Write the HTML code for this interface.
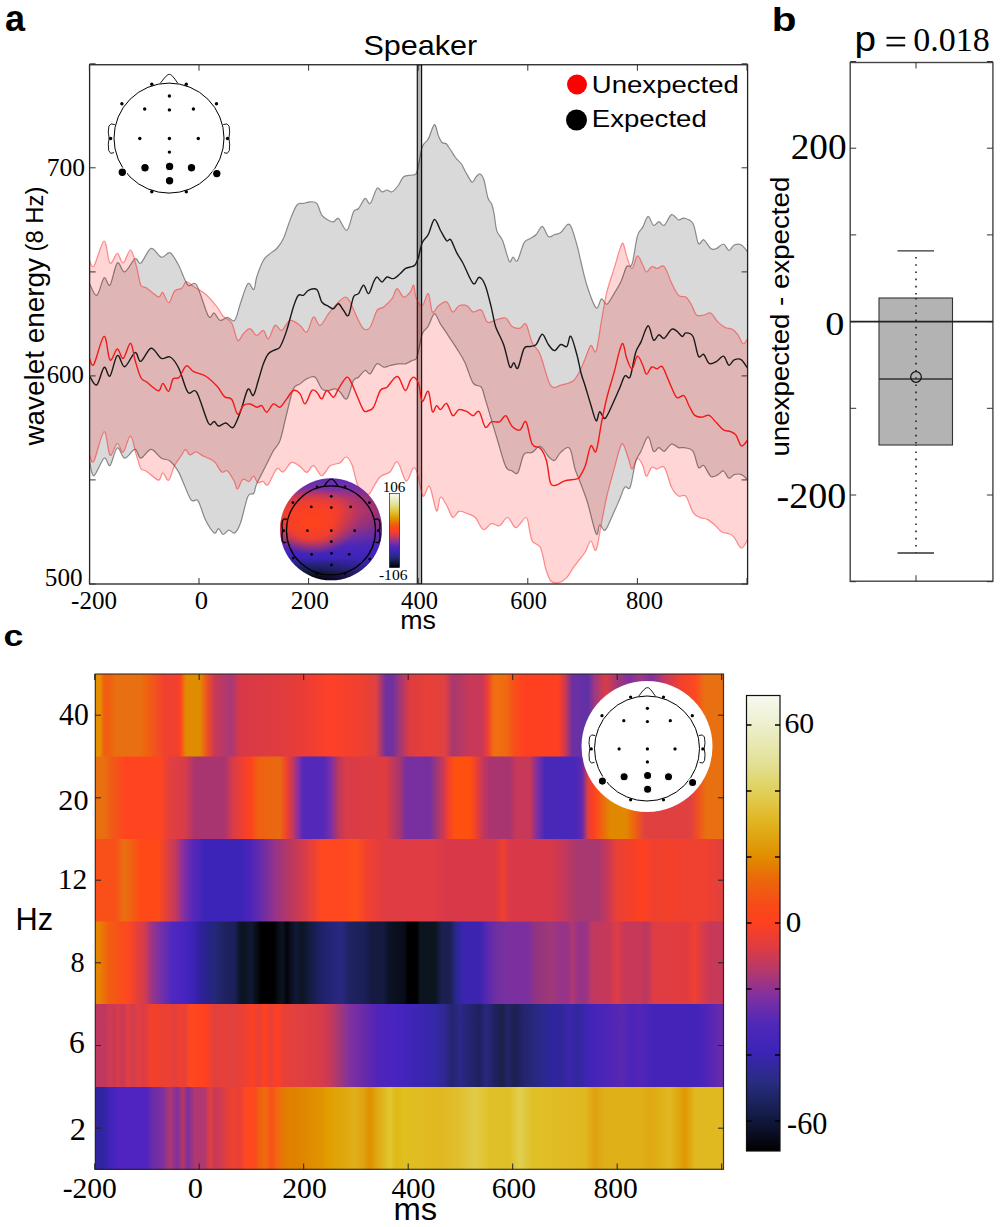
<!DOCTYPE html>
<html><head><meta charset="utf-8"><style>
html,body{margin:0;padding:0;background:#fff;}
svg{display:block;}
</style></head><body>
<svg width="1000" height="1227" viewBox="0 0 1000 1227">
<defs><clipPath id="ca"><rect x="89.6" y="64.75" width="658" height="519.25"/></clipPath><linearGradient id="topo" x1="0" y1="0" x2="0" y2="1"><stop offset="0" stop-color="#5a2cb4"/><stop offset="0.1" stop-color="#7a30a4"/><stop offset="0.2" stop-color="#c03860"/><stop offset="0.32" stop-color="#e03c44"/><stop offset="0.45" stop-color="#c83858"/><stop offset="0.56" stop-color="#8a3490"/><stop offset="0.66" stop-color="#5028b8"/><stop offset="0.78" stop-color="#3c24b8"/><stop offset="0.88" stop-color="#1c2060"/><stop offset="0.95" stop-color="#0c1020"/><stop offset="1" stop-color="#000"/></linearGradient><radialGradient id="topor" cx="0.33" cy="0.42" r="0.36" fx="0.3" fy="0.45" gradientTransform="translate(0.33,0.42) scale(1.25,0.9) translate(-0.33,-0.42)"><stop offset="0" stop-color="#ff4418" stop-opacity="1"/><stop offset="0.5" stop-color="#ff4020" stop-opacity="0.85"/><stop offset="1" stop-color="#ff4020" stop-opacity="0"/></radialGradient><linearGradient id="topob" x1="0" y1="0" x2="1" y2="0.3"><stop offset="0" stop-color="#4024b8" stop-opacity="0"/><stop offset="0.6" stop-color="#4024b8" stop-opacity="0"/><stop offset="1" stop-color="#4024b8" stop-opacity="0.5"/></linearGradient><linearGradient id="cbg" x1="0" y1="0" x2="0" y2="1"><stop offset="0.0000" stop-color="#f6f9f0"/><stop offset="0.0600" stop-color="#eef0d0"/><stop offset="0.1500" stop-color="#e2e094"/><stop offset="0.2200" stop-color="#e0cc50"/><stop offset="0.2800" stop-color="#e0b420"/><stop offset="0.3500" stop-color="#e09000"/><stop offset="0.4000" stop-color="#ea6a08"/><stop offset="0.4600" stop-color="#f84a18"/><stop offset="0.5000" stop-color="#ff4020"/><stop offset="0.5500" stop-color="#e03c40"/><stop offset="0.6100" stop-color="#b03870"/><stop offset="0.6600" stop-color="#8030a0"/><stop offset="0.7200" stop-color="#5028b8"/><stop offset="0.7800" stop-color="#3c24b8"/><stop offset="0.8500" stop-color="#282c80"/><stop offset="0.9200" stop-color="#141c48"/><stop offset="1.0000" stop-color="#000000"/></linearGradient><linearGradient id="r0" gradientUnits="userSpaceOnUse" x1="95" y1="0" x2="724" y2="0"><stop offset="0.0000" stop-color="#e09000"/><stop offset="0.0079" stop-color="#e89000"/><stop offset="0.0143" stop-color="#f06010"/><stop offset="0.0238" stop-color="#f06010"/><stop offset="0.0334" stop-color="#e87010"/><stop offset="0.0715" stop-color="#e87010"/><stop offset="0.0843" stop-color="#f06010"/><stop offset="0.0970" stop-color="#f05020"/><stop offset="0.1113" stop-color="#f04030"/><stop offset="0.1288" stop-color="#f04030"/><stop offset="0.1351" stop-color="#ff4020"/><stop offset="0.1447" stop-color="#e08c00"/><stop offset="0.1669" stop-color="#e08c00"/><stop offset="0.1781" stop-color="#f05020"/><stop offset="0.1908" stop-color="#c83858"/><stop offset="0.2162" stop-color="#a83878"/><stop offset="0.2305" stop-color="#d83848"/><stop offset="0.2941" stop-color="#e03c40"/><stop offset="0.3259" stop-color="#e83c38"/><stop offset="0.3736" stop-color="#ff4028"/><stop offset="0.4213" stop-color="#f04030"/><stop offset="0.4467" stop-color="#e04040"/><stop offset="0.4626" stop-color="#7030a0"/><stop offset="0.4722" stop-color="#7030a0"/><stop offset="0.4849" stop-color="#a03878"/><stop offset="0.5008" stop-color="#e03c40"/><stop offset="0.5326" stop-color="#e84038"/><stop offset="0.5564" stop-color="#e04040"/><stop offset="0.5692" stop-color="#a83870"/><stop offset="0.5962" stop-color="#c83858"/><stop offset="0.6153" stop-color="#c83858"/><stop offset="0.6248" stop-color="#f04030"/><stop offset="0.6343" stop-color="#f07010"/><stop offset="0.6534" stop-color="#f06a10"/><stop offset="0.6661" stop-color="#f85018"/><stop offset="0.6820" stop-color="#ff4020"/><stop offset="0.7361" stop-color="#ff4020"/><stop offset="0.7472" stop-color="#d03850"/><stop offset="0.7583" stop-color="#7030a0"/><stop offset="0.7838" stop-color="#6030a8"/><stop offset="0.7949" stop-color="#a03880"/><stop offset="0.8124" stop-color="#d83c48"/><stop offset="0.8315" stop-color="#a03878"/><stop offset="0.8506" stop-color="#8030a0"/><stop offset="0.8665" stop-color="#a03880"/><stop offset="0.8855" stop-color="#8030a0"/><stop offset="0.9062" stop-color="#c83860"/><stop offset="0.9300" stop-color="#f04030"/><stop offset="0.9539" stop-color="#ff4820"/><stop offset="0.9698" stop-color="#e87010"/><stop offset="1.0000" stop-color="#e87010"/></linearGradient><linearGradient id="r1" gradientUnits="userSpaceOnUse" x1="95" y1="0" x2="724" y2="0"><stop offset="0.0000" stop-color="#e87010"/><stop offset="0.0143" stop-color="#e87010"/><stop offset="0.0270" stop-color="#f05a18"/><stop offset="0.0477" stop-color="#ff4520"/><stop offset="0.1033" stop-color="#ff4520"/><stop offset="0.1192" stop-color="#e04040"/><stop offset="0.1431" stop-color="#d83c48"/><stop offset="0.1590" stop-color="#a83470"/><stop offset="0.2051" stop-color="#a83470"/><stop offset="0.2194" stop-color="#d83c48"/><stop offset="0.2353" stop-color="#f04030"/><stop offset="0.2464" stop-color="#ff4020"/><stop offset="0.2591" stop-color="#f06010"/><stop offset="0.2941" stop-color="#e86a10"/><stop offset="0.3052" stop-color="#f04030"/><stop offset="0.3148" stop-color="#c03860"/><stop offset="0.3227" stop-color="#8a30a0"/><stop offset="0.3307" stop-color="#5428b8"/><stop offset="0.3625" stop-color="#5428b8"/><stop offset="0.3752" stop-color="#7a30a8"/><stop offset="0.3863" stop-color="#b83860"/><stop offset="0.3990" stop-color="#d83c48"/><stop offset="0.4610" stop-color="#e03c40"/><stop offset="0.4849" stop-color="#a83470"/><stop offset="0.4944" stop-color="#7830a0"/><stop offset="0.5326" stop-color="#7830a0"/><stop offset="0.5437" stop-color="#a03878"/><stop offset="0.5533" stop-color="#c83858"/><stop offset="0.5612" stop-color="#f04030"/><stop offset="0.5723" stop-color="#ff5010"/><stop offset="0.5962" stop-color="#ff5010"/><stop offset="0.6057" stop-color="#f04030"/><stop offset="0.6153" stop-color="#c83858"/><stop offset="0.6280" stop-color="#a83470"/><stop offset="0.6598" stop-color="#a83470"/><stop offset="0.6693" stop-color="#c83858"/><stop offset="0.6916" stop-color="#c83858"/><stop offset="0.7027" stop-color="#8030a0"/><stop offset="0.7154" stop-color="#4828b8"/><stop offset="0.7631" stop-color="#4828b8"/><stop offset="0.7742" stop-color="#6028b0"/><stop offset="0.7838" stop-color="#e04040"/><stop offset="0.7933" stop-color="#ff4020"/><stop offset="0.8188" stop-color="#e08800"/><stop offset="0.8442" stop-color="#e08800"/><stop offset="0.8585" stop-color="#f06010"/><stop offset="0.8744" stop-color="#e04040"/><stop offset="0.9459" stop-color="#e04040"/><stop offset="0.9587" stop-color="#f05020"/><stop offset="0.9714" stop-color="#e87010"/><stop offset="1.0000" stop-color="#e87010"/></linearGradient><linearGradient id="r2" gradientUnits="userSpaceOnUse" x1="95" y1="0" x2="724" y2="0"><stop offset="0.0000" stop-color="#f85018"/><stop offset="0.0318" stop-color="#f85018"/><stop offset="0.0461" stop-color="#e87010"/><stop offset="0.0588" stop-color="#f06010"/><stop offset="0.0715" stop-color="#ff4a18"/><stop offset="0.1002" stop-color="#ff4a18"/><stop offset="0.1145" stop-color="#e04040"/><stop offset="0.1288" stop-color="#c03860"/><stop offset="0.1399" stop-color="#8830a0"/><stop offset="0.1542" stop-color="#5a28b8"/><stop offset="0.1749" stop-color="#3c24b8"/><stop offset="0.2305" stop-color="#3c24b8"/><stop offset="0.2464" stop-color="#4c24b8"/><stop offset="0.2655" stop-color="#6a2ca8"/><stop offset="0.2878" stop-color="#9a3488"/><stop offset="0.3100" stop-color="#b83860"/><stop offset="0.3339" stop-color="#d83c48"/><stop offset="0.3609" stop-color="#ff4820"/><stop offset="0.3975" stop-color="#ff4820"/><stop offset="0.4134" stop-color="#ff5018"/><stop offset="0.4340" stop-color="#f04030"/><stop offset="0.4610" stop-color="#e03c44"/><stop offset="0.5405" stop-color="#e03c44"/><stop offset="0.5564" stop-color="#d83848"/><stop offset="0.6359" stop-color="#d83848"/><stop offset="0.6486" stop-color="#f04030"/><stop offset="0.6598" stop-color="#d83848"/><stop offset="0.7234" stop-color="#d83848"/><stop offset="0.7424" stop-color="#c83858"/><stop offset="0.7679" stop-color="#a83870"/><stop offset="0.7997" stop-color="#a83870"/><stop offset="0.8156" stop-color="#c83858"/><stop offset="0.8283" stop-color="#e84038"/><stop offset="0.8426" stop-color="#f04030"/><stop offset="0.8712" stop-color="#ff4020"/><stop offset="0.8903" stop-color="#f04030"/><stop offset="0.9110" stop-color="#f44028"/><stop offset="0.9380" stop-color="#f04030"/><stop offset="0.9698" stop-color="#f04030"/><stop offset="0.9857" stop-color="#e84038"/><stop offset="1.0000" stop-color="#e04040"/></linearGradient><linearGradient id="r3" gradientUnits="userSpaceOnUse" x1="95" y1="0" x2="724" y2="0"><stop offset="0.0000" stop-color="#e08800"/><stop offset="0.0079" stop-color="#e88000"/><stop offset="0.0207" stop-color="#f06010"/><stop offset="0.0397" stop-color="#f85018"/><stop offset="0.0525" stop-color="#ff4820"/><stop offset="0.0652" stop-color="#e84038"/><stop offset="0.0795" stop-color="#d03c50"/><stop offset="0.0906" stop-color="#9a3488"/><stop offset="0.1065" stop-color="#7030a8"/><stop offset="0.1224" stop-color="#5028c0"/><stop offset="0.1383" stop-color="#4a24c0"/><stop offset="0.1542" stop-color="#3c24b8"/><stop offset="0.1669" stop-color="#3020a0"/><stop offset="0.1781" stop-color="#28248c"/><stop offset="0.1908" stop-color="#242878"/><stop offset="0.2067" stop-color="#1e2260"/><stop offset="0.2226" stop-color="#1c2058"/><stop offset="0.2305" stop-color="#0e1428"/><stop offset="0.2385" stop-color="#0c1420"/><stop offset="0.2480" stop-color="#101838"/><stop offset="0.2576" stop-color="#080c14"/><stop offset="0.2639" stop-color="#000000"/><stop offset="0.2846" stop-color="#000000"/><stop offset="0.2909" stop-color="#080c14"/><stop offset="0.2973" stop-color="#0c1424"/><stop offset="0.3052" stop-color="#020408"/><stop offset="0.3116" stop-color="#0c1020"/><stop offset="0.3196" stop-color="#101838"/><stop offset="0.3291" stop-color="#0c1424"/><stop offset="0.3418" stop-color="#141c40"/><stop offset="0.3545" stop-color="#1c2060"/><stop offset="0.3736" stop-color="#242478"/><stop offset="0.3927" stop-color="#282880"/><stop offset="0.4054" stop-color="#1e2260"/><stop offset="0.4277" stop-color="#1c2058"/><stop offset="0.4404" stop-color="#141a40"/><stop offset="0.4595" stop-color="#141a40"/><stop offset="0.4658" stop-color="#0c1428"/><stop offset="0.4769" stop-color="#0a1020"/><stop offset="0.4928" stop-color="#080c18"/><stop offset="0.4976" stop-color="#000000"/><stop offset="0.5119" stop-color="#000000"/><stop offset="0.5167" stop-color="#0c1420"/><stop offset="0.5405" stop-color="#0c1420"/><stop offset="0.5517" stop-color="#1c2050"/><stop offset="0.5644" stop-color="#1c2050"/><stop offset="0.5739" stop-color="#282890"/><stop offset="0.5866" stop-color="#3c24b0"/><stop offset="0.6121" stop-color="#3c24b0"/><stop offset="0.6248" stop-color="#5c28b0"/><stop offset="0.6391" stop-color="#7030a0"/><stop offset="0.6598" stop-color="#7c30a0"/><stop offset="0.6884" stop-color="#7c30a0"/><stop offset="0.6995" stop-color="#903480"/><stop offset="0.7234" stop-color="#a03878"/><stop offset="0.7393" stop-color="#983488"/><stop offset="0.7520" stop-color="#983488"/><stop offset="0.7583" stop-color="#b03870"/><stop offset="0.7679" stop-color="#983488"/><stop offset="0.7806" stop-color="#983488"/><stop offset="0.7901" stop-color="#c03860"/><stop offset="0.8188" stop-color="#c83858"/><stop offset="0.8299" stop-color="#e03c44"/><stop offset="0.8410" stop-color="#c83858"/><stop offset="0.8665" stop-color="#c83858"/><stop offset="0.8760" stop-color="#b83860"/><stop offset="0.8887" stop-color="#e03c44"/><stop offset="0.9428" stop-color="#e03c40"/><stop offset="0.9523" stop-color="#f04030"/><stop offset="0.9618" stop-color="#e03c44"/><stop offset="0.9777" stop-color="#c83858"/><stop offset="1.0000" stop-color="#c83858"/></linearGradient><linearGradient id="r4" gradientUnits="userSpaceOnUse" x1="95" y1="0" x2="724" y2="0"><stop offset="0.0000" stop-color="#c03860"/><stop offset="0.0175" stop-color="#c03860"/><stop offset="0.0238" stop-color="#d03c50"/><stop offset="0.0302" stop-color="#c83858"/><stop offset="0.0366" stop-color="#d83c48"/><stop offset="0.0445" stop-color="#c83858"/><stop offset="0.0525" stop-color="#e04040"/><stop offset="0.0604" stop-color="#d03c50"/><stop offset="0.0684" stop-color="#e04040"/><stop offset="0.0763" stop-color="#d83c48"/><stop offset="0.0874" stop-color="#f04030"/><stop offset="0.0970" stop-color="#f44028"/><stop offset="0.1065" stop-color="#e84038"/><stop offset="0.1161" stop-color="#f04030"/><stop offset="0.1256" stop-color="#e04040"/><stop offset="0.1351" stop-color="#f04030"/><stop offset="0.1431" stop-color="#e84038"/><stop offset="0.1510" stop-color="#ff4820"/><stop offset="0.1765" stop-color="#ff4020"/><stop offset="0.1860" stop-color="#e84038"/><stop offset="0.1924" stop-color="#e04040"/><stop offset="0.2051" stop-color="#e84038"/><stop offset="0.2178" stop-color="#e04040"/><stop offset="0.2305" stop-color="#e84038"/><stop offset="0.2432" stop-color="#f04030"/><stop offset="0.2512" stop-color="#ff4020"/><stop offset="0.2591" stop-color="#e84038"/><stop offset="0.2703" stop-color="#ff4020"/><stop offset="0.2782" stop-color="#e84038"/><stop offset="0.2909" stop-color="#ff4020"/><stop offset="0.2989" stop-color="#e84038"/><stop offset="0.3259" stop-color="#e04040"/><stop offset="0.3577" stop-color="#d83c48"/><stop offset="0.3736" stop-color="#c83858"/><stop offset="0.3895" stop-color="#a03878"/><stop offset="0.4054" stop-color="#8030a0"/><stop offset="0.4245" stop-color="#6a2ca8"/><stop offset="0.4499" stop-color="#5024b8"/><stop offset="0.4769" stop-color="#4824c0"/><stop offset="0.5040" stop-color="#4024b8"/><stop offset="0.5246" stop-color="#3a26b0"/><stop offset="0.5405" stop-color="#3428a8"/><stop offset="0.5564" stop-color="#302890"/><stop offset="0.5676" stop-color="#242470"/><stop offset="0.5803" stop-color="#2c2888"/><stop offset="0.5962" stop-color="#242470"/><stop offset="0.6121" stop-color="#202060"/><stop offset="0.6216" stop-color="#282880"/><stop offset="0.6359" stop-color="#202060"/><stop offset="0.6471" stop-color="#1c2048"/><stop offset="0.6566" stop-color="#242468"/><stop offset="0.6677" stop-color="#1c2050"/><stop offset="0.6820" stop-color="#242470"/><stop offset="0.6995" stop-color="#282880"/><stop offset="0.7154" stop-color="#2c2890"/><stop offset="0.7313" stop-color="#3024a0"/><stop offset="0.7424" stop-color="#302898"/><stop offset="0.7552" stop-color="#3c24b0"/><stop offset="0.7663" stop-color="#302898"/><stop offset="0.7838" stop-color="#4024b8"/><stop offset="0.8188" stop-color="#5024b8"/><stop offset="0.8378" stop-color="#5828b0"/><stop offset="0.8537" stop-color="#4c24b8"/><stop offset="0.8665" stop-color="#5424b8"/><stop offset="0.8855" stop-color="#4424b8"/><stop offset="0.9587" stop-color="#4424b8"/><stop offset="0.9730" stop-color="#5024b8"/><stop offset="0.9873" stop-color="#6028b0"/><stop offset="1.0000" stop-color="#6a2ca8"/></linearGradient><linearGradient id="r5" gradientUnits="userSpaceOnUse" x1="95" y1="0" x2="724" y2="0"><stop offset="0.0000" stop-color="#3024a0"/><stop offset="0.0111" stop-color="#3024a0"/><stop offset="0.0238" stop-color="#4024b8"/><stop offset="0.0397" stop-color="#5024c0"/><stop offset="0.0811" stop-color="#5024c0"/><stop offset="0.0922" stop-color="#6a2ca8"/><stop offset="0.1081" stop-color="#8030a0"/><stop offset="0.1192" stop-color="#b03870"/><stop offset="0.1304" stop-color="#8030a0"/><stop offset="0.1399" stop-color="#b83860"/><stop offset="0.1479" stop-color="#7a30a0"/><stop offset="0.1590" stop-color="#b03870"/><stop offset="0.1749" stop-color="#b03870"/><stop offset="0.1828" stop-color="#e04040"/><stop offset="0.1908" stop-color="#c83858"/><stop offset="0.2003" stop-color="#d03c50"/><stop offset="0.2083" stop-color="#e04040"/><stop offset="0.2194" stop-color="#f04030"/><stop offset="0.2305" stop-color="#e84038"/><stop offset="0.2401" stop-color="#ff4820"/><stop offset="0.2544" stop-color="#ff4820"/><stop offset="0.2607" stop-color="#f06010"/><stop offset="0.2719" stop-color="#f06a10"/><stop offset="0.2798" stop-color="#f85018"/><stop offset="0.2909" stop-color="#f06a10"/><stop offset="0.3037" stop-color="#e08000"/><stop offset="0.3259" stop-color="#e08400"/><stop offset="0.3418" stop-color="#e08c00"/><stop offset="0.3609" stop-color="#e09400"/><stop offset="0.3736" stop-color="#e0a000"/><stop offset="0.3975" stop-color="#e0a810"/><stop offset="0.4134" stop-color="#e0b018"/><stop offset="0.4277" stop-color="#e0a010"/><stop offset="0.4372" stop-color="#e09000"/><stop offset="0.4483" stop-color="#e0a810"/><stop offset="0.4595" stop-color="#e0b820"/><stop offset="0.4690" stop-color="#e0c830"/><stop offset="0.4785" stop-color="#e0b818"/><stop offset="0.4928" stop-color="#e0c020"/><stop offset="0.5485" stop-color="#e0b820"/><stop offset="0.5803" stop-color="#e0c030"/><stop offset="0.6041" stop-color="#e0cc48"/><stop offset="0.6280" stop-color="#e0c028"/><stop offset="0.6598" stop-color="#e0c028"/><stop offset="0.6757" stop-color="#e0d050"/><stop offset="0.6948" stop-color="#e0c028"/><stop offset="0.7790" stop-color="#e0b820"/><stop offset="0.7949" stop-color="#e0a010"/><stop offset="0.8108" stop-color="#e0b018"/><stop offset="0.8665" stop-color="#e0b018"/><stop offset="0.8824" stop-color="#e0a810"/><stop offset="0.9141" stop-color="#e0b820"/><stop offset="0.9380" stop-color="#e09800"/><stop offset="0.9539" stop-color="#e0b820"/><stop offset="1.0000" stop-color="#e0b820"/></linearGradient><linearGradient id="cbc" x1="0" y1="0" x2="0" y2="1"><stop offset="0.0000" stop-color="#f6f9f0"/><stop offset="0.0600" stop-color="#eef0d0"/><stop offset="0.1500" stop-color="#e2e094"/><stop offset="0.2200" stop-color="#e0cc50"/><stop offset="0.2800" stop-color="#e0b420"/><stop offset="0.3500" stop-color="#e09000"/><stop offset="0.4000" stop-color="#ea6a08"/><stop offset="0.4600" stop-color="#f84a18"/><stop offset="0.5000" stop-color="#ff4020"/><stop offset="0.5500" stop-color="#e03c40"/><stop offset="0.6100" stop-color="#b03870"/><stop offset="0.6600" stop-color="#8030a0"/><stop offset="0.7200" stop-color="#5028b8"/><stop offset="0.7800" stop-color="#3c24b8"/><stop offset="0.8500" stop-color="#282c80"/><stop offset="0.9200" stop-color="#141c48"/><stop offset="1.0000" stop-color="#000000"/></linearGradient></defs>
<rect width="1000" height="1227" fill="#fff"/>
<g clip-path="url(#ca)">
<rect x="417.3" y="64.75" width="4.3" height="519.25" fill="#b4b4b4" stroke="#111" stroke-width="1.2"/>
<path d="M89.5,283.6C90.7,285.6 94.4,296.4 96.8,295.4C99.2,294.4 101.9,279.5 104.1,277.8C106.3,276.1 107.8,287.5 110.0,285.0C112.2,282.5 114.8,265.2 117.3,263.0C119.8,260.8 121.8,272.6 124.7,271.9C127.7,271.2 132.3,260.2 135.0,258.7C137.7,257.2 138.1,264.7 140.8,263.0C143.5,261.3 147.7,249.4 151.1,248.4C154.5,247.4 158.2,256.5 161.4,257.2C164.6,257.9 167.3,251.3 170.2,252.8C173.1,254.3 176.1,260.6 179.0,266.0C181.9,271.4 184.9,281.8 187.8,285.0C190.7,288.2 193.2,279.9 196.6,285.0C200.0,290.1 205.4,311.2 208.3,315.9C211.2,320.6 212.2,312.3 214.2,313.0C216.1,313.7 217.8,319.6 220.0,320.3C222.2,321.0 225.0,317.4 227.4,317.4C229.8,317.4 232.5,322.8 234.7,320.3C236.9,317.9 238.4,308.8 240.6,302.7C242.8,296.6 245.7,285.8 247.9,283.6C250.1,281.4 252.3,290.6 253.8,289.5C255.3,288.4 255.1,281.9 256.7,277.0C258.3,272.1 261.2,264.2 263.4,260.3C265.6,256.4 267.8,255.6 270.0,253.6C272.2,251.6 274.5,251.0 276.7,248.5C278.9,246.0 281.2,243.2 283.4,238.5C285.6,233.8 287.8,225.7 290.0,220.1C292.2,214.5 294.6,207.9 296.8,205.1C299.0,202.3 301.2,203.9 303.4,203.4C305.6,202.9 307.9,201.8 310.1,201.8C312.3,201.8 314.9,201.2 316.8,203.4C318.8,205.6 319.9,212.3 321.8,215.1C323.8,217.9 326.6,219.1 328.5,220.2C330.4,221.3 331.8,222.1 333.5,221.8C335.2,221.5 336.3,217.1 338.5,218.5C340.7,219.9 344.4,231.3 346.9,230.2C349.4,229.1 351.6,215.4 353.5,211.8C355.4,208.2 356.6,210.7 358.5,208.5C360.4,206.3 363.2,199.2 365.2,198.4C367.1,197.6 368.2,205.1 370.2,203.4C372.2,201.7 375.0,190.3 377.0,188.4C379.0,186.5 380.3,191.5 382.0,191.8C383.7,192.1 385.3,190.0 387.0,190.0C388.7,190.0 390.1,192.6 392.0,191.8C393.9,191.0 396.7,187.5 398.6,185.0C400.5,182.5 401.4,178.4 403.6,176.7C405.8,175.0 409.8,175.8 412.0,175.0C414.2,174.2 415.3,176.4 417.0,171.7C418.7,167.0 420.3,152.5 422.2,147.0C424.1,141.5 426.3,142.6 428.3,138.9C430.3,135.2 432.7,125.1 434.4,124.6C436.1,124.1 437.2,133.0 438.5,136.0C439.8,139.0 440.8,141.2 442.0,142.5C443.2,143.8 444.7,142.4 446.0,143.5C447.3,144.6 448.4,146.7 450.0,149.0C451.6,151.3 453.6,155.0 455.5,157.5C457.4,160.0 459.8,161.5 461.5,164.0C463.2,166.5 464.2,169.5 466.0,172.5C467.8,175.5 470.3,181.2 472.0,182.0C473.7,182.8 474.7,178.3 476.0,177.0C477.3,175.7 478.7,173.5 480.0,174.0C481.3,174.5 482.7,176.0 484.0,180.0C485.3,184.0 486.7,194.0 488.0,198.0C489.3,202.0 490.7,201.5 491.7,204.0C492.7,206.5 493.1,208.6 494.0,213.0C494.9,217.4 495.4,226.0 496.8,230.6C498.2,235.2 500.6,235.7 502.7,240.8C504.8,245.9 507.6,258.6 509.3,261.3C511.0,264.0 511.6,257.1 513.0,257.0C514.4,256.9 515.6,263.0 517.4,260.6C519.2,258.2 521.9,246.4 524.0,242.7C526.1,239.0 528.1,240.0 530.1,238.6C532.1,237.2 534.2,236.5 536.2,234.5C538.2,232.5 540.3,226.1 542.3,226.4C544.3,226.8 546.4,235.2 548.4,236.6C550.4,237.9 552.5,235.2 554.5,234.5C556.5,233.8 558.2,234.2 560.7,232.5C563.2,230.8 566.9,222.4 569.6,224.4C572.3,226.4 575.0,238.4 576.9,244.7C578.8,251.0 579.3,255.1 581.0,262.0C582.7,268.9 584.7,278.7 587.2,286.3C589.7,293.9 593.7,305.7 596.1,307.8C598.5,309.9 599.7,299.5 601.5,298.9C603.3,298.3 604.8,305.1 606.9,304.2C609.0,303.3 611.7,297.4 614.1,293.5C616.5,289.6 619.1,285.4 621.2,280.9C623.3,276.4 624.8,269.4 626.6,266.6C628.4,263.8 630.2,269.1 632.0,264.0C633.8,258.9 635.6,242.2 637.4,236.1C639.2,229.9 641.0,230.4 642.8,227.1C644.6,223.8 646.3,216.7 648.1,216.4C649.9,216.1 651.7,224.4 653.5,225.3C655.3,226.2 657.1,221.7 658.9,221.7C660.7,221.7 662.2,226.5 664.3,225.3C666.4,224.1 669.1,215.5 671.5,214.6C673.9,213.7 676.5,219.3 678.6,219.9C680.7,220.5 681.6,217.5 684.0,218.1C686.4,218.7 690.6,219.3 693.0,223.5C695.4,227.7 696.6,240.6 698.4,243.3C700.2,246.0 701.6,238.8 703.7,239.7C705.8,240.6 708.8,247.1 710.9,248.6C713.0,250.1 714.2,249.4 716.3,248.6C718.4,247.8 721.4,243.7 723.5,244.0C725.6,244.3 727.1,250.2 728.9,250.4C730.7,250.6 732.1,245.9 734.2,245.0C736.3,244.1 739.1,243.8 741.4,245.0C743.7,246.2 746.8,251.0 747.9,252.2L747.9,480.0C746.8,479.1 743.7,475.5 741.4,474.6C739.1,473.7 736.3,474.0 734.2,474.6C732.1,475.2 730.7,478.8 728.9,478.2C727.1,477.6 725.3,471.6 723.5,471.0C721.7,470.4 720.2,473.7 718.1,474.6C716.0,475.5 713.3,477.9 710.9,476.4C708.5,474.9 705.8,467.1 703.7,465.6C701.6,464.1 700.2,469.8 698.4,467.4C696.6,465.0 695.4,454.6 693.0,451.3C690.6,448.0 686.4,448.3 684.0,447.7C681.6,447.1 680.7,448.3 678.6,447.7C676.5,447.1 673.9,443.5 671.5,444.1C669.1,444.7 666.4,450.7 664.3,451.3C662.2,451.9 660.7,447.7 658.9,447.7C657.1,447.7 655.3,453.1 653.5,451.3C651.7,449.5 650.2,436.9 648.1,436.9C646.0,436.9 643.1,447.1 641.0,451.3C638.9,455.5 637.4,456.0 635.6,462.0C633.8,468.0 632.0,483.0 630.2,487.2C628.4,491.4 626.6,485.1 624.8,487.2C623.0,489.3 621.6,494.9 619.5,499.7C617.4,504.5 614.7,510.8 612.3,515.9C609.9,521.0 607.2,528.7 605.1,530.2C603.0,531.7 601.2,524.2 599.7,524.8C598.2,525.4 598.2,537.7 596.1,533.8C594.0,529.9 589.9,510.2 587.2,501.5C584.5,492.8 582.0,487.3 580.0,481.8C578.0,476.3 576.6,474.3 574.9,468.7C573.2,463.1 572.0,451.0 569.6,448.3C567.2,445.6 563.2,450.4 560.7,452.4C558.2,454.4 556.5,459.8 554.5,460.5C552.5,461.2 550.8,458.9 548.4,456.5C546.0,454.1 543.0,447.0 540.3,446.3C537.6,445.6 534.9,451.0 532.2,452.4C529.5,453.8 526.4,451.0 524.0,454.4C521.6,457.8 519.9,470.0 517.9,472.7C515.9,475.4 513.8,471.7 511.8,470.7C509.8,469.7 508.1,471.7 505.7,466.6C503.3,461.5 499.9,448.0 497.5,440.2C495.1,432.4 493.4,426.6 491.4,419.8C489.4,413.0 487.0,404.8 485.3,399.4C483.6,394.0 483.3,389.9 481.3,387.2C479.3,384.5 475.8,387.3 473.1,383.2C470.4,379.1 467.7,368.6 465.0,362.8C462.3,357.0 459.5,353.0 456.8,348.6C454.1,344.2 451.4,340.4 448.7,336.3C446.0,332.2 442.9,327.8 440.5,324.1C438.1,320.4 436.4,313.5 434.4,313.9C432.4,314.2 430.3,322.8 428.3,326.2C426.3,329.6 424.1,329.1 422.2,334.3C420.3,339.5 418.7,352.7 417.0,357.1C415.3,361.5 413.9,359.4 412.0,360.5C410.1,361.6 407.5,363.2 405.3,363.8C403.1,364.4 401.1,363.5 398.6,363.8C396.1,364.1 392.8,364.9 390.3,365.5C387.8,366.1 385.8,367.5 383.6,367.2C381.4,366.9 379.2,362.7 377.0,363.8C374.8,364.9 372.2,372.8 370.2,373.9C368.2,375.0 367.1,369.9 365.2,370.5C363.2,371.1 360.4,375.5 358.5,377.2C356.6,378.9 355.4,376.9 353.5,380.5C351.6,384.1 349.1,396.9 346.9,398.9C344.7,400.8 342.1,393.9 340.2,392.2C338.2,390.5 337.1,389.1 335.2,388.8C333.2,388.5 330.7,390.5 328.5,390.5C326.3,390.5 324.0,391.0 321.8,388.8C319.6,386.6 317.6,378.9 315.1,377.2C312.6,375.5 309.3,377.7 306.8,378.8C304.3,379.9 302.3,382.2 300.1,383.9C297.9,385.6 295.6,383.8 293.4,388.8C291.2,393.8 288.9,405.3 286.7,413.9C284.5,422.5 282.2,434.5 280.0,440.6C277.8,446.7 275.6,446.8 273.4,450.7C271.2,454.6 269.5,458.4 266.7,464.0C263.9,469.6 258.8,479.1 256.7,484.0C254.5,488.9 255.3,491.3 253.8,493.4C252.3,495.5 250.1,491.5 247.9,496.4C245.7,501.3 242.8,516.7 240.6,522.8C238.4,528.9 236.7,531.8 234.7,533.0C232.7,534.2 230.8,529.9 228.8,530.1C226.9,530.4 224.7,534.8 223.0,534.5C221.3,534.2 220.1,528.9 218.6,528.6C217.1,528.4 216.4,534.5 214.2,533.0C212.0,531.5 208.1,525.2 205.4,519.8C202.7,514.4 200.4,504.2 198.0,500.8C195.6,497.4 193.9,504.0 190.7,499.3C187.5,494.6 182.4,479.2 179.0,472.9C175.6,466.5 173.1,463.6 170.2,461.2C167.3,458.8 164.6,460.2 161.4,458.2C158.2,456.2 154.5,449.4 151.1,449.4C147.7,449.4 143.5,458.2 140.8,458.2C138.1,458.2 137.7,449.4 135.0,449.4C132.3,449.4 127.7,458.4 124.7,458.2C121.8,458.0 119.8,446.8 117.3,448.0C114.8,449.2 112.2,463.8 110.0,465.5C107.8,467.2 106.8,456.5 104.1,458.2C101.4,459.9 96.3,475.3 93.9,475.8C91.5,476.3 90.2,463.5 89.5,461.0Z" fill="#000" fill-opacity="0.15"/>
<path d="M89.5,260.0C90.2,261.0 91.5,269.2 93.9,266.0C96.3,262.8 101.4,241.5 104.1,241.0C106.8,240.5 107.8,260.9 110.0,263.0C112.2,265.1 115.1,253.4 117.3,253.4C119.5,253.4 121.0,263.6 123.2,263.0C125.4,262.4 128.3,249.5 130.5,250.0C132.7,250.5 134.7,260.2 136.4,266.0C138.1,271.8 139.1,281.3 140.8,285.0C142.5,288.7 143.8,286.0 146.7,288.0C149.6,290.0 155.7,296.1 158.4,296.8C161.1,297.5 161.1,291.4 162.8,292.4C164.5,293.4 166.7,302.9 168.7,302.7C170.7,302.5 172.4,293.4 174.6,291.0C176.8,288.6 179.9,289.6 181.9,288.0C183.9,286.4 184.4,281.8 186.3,281.6C188.2,281.4 190.4,284.5 193.6,286.6C196.8,288.7 201.5,290.6 205.4,294.0C209.3,297.4 214.2,303.3 217.1,307.0C220.0,310.7 220.6,313.3 223.0,316.0C225.4,318.7 229.4,319.1 231.8,323.2C234.2,327.2 235.7,338.6 237.6,340.3C239.5,342.0 241.4,335.4 243.5,333.5C245.6,331.6 247.8,328.4 250.0,328.7C252.2,329.0 254.5,335.1 256.7,335.4C258.9,335.7 261.4,329.8 263.4,330.4C265.3,331.0 266.5,339.6 268.4,338.8C270.3,338.0 272.8,326.7 275.0,325.3C277.2,323.9 279.2,331.2 281.7,330.4C284.2,329.6 286.9,321.2 290.0,320.4C293.1,319.6 297.3,323.4 300.1,325.4C302.9,327.3 304.6,333.5 306.8,332.1C309.0,330.7 311.3,318.1 313.5,317.0C315.7,315.9 317.6,325.9 320.1,325.4C322.6,324.8 325.7,317.3 328.5,313.7C331.3,310.1 334.0,306.5 336.8,303.7C339.6,300.9 343.0,297.3 345.2,297.0C347.4,296.7 348.2,298.7 350.2,302.0C352.1,305.3 354.7,312.6 356.9,317.0C359.1,321.4 361.4,327.0 363.6,328.7C365.8,330.4 368.0,330.1 370.2,327.0C372.4,323.9 374.8,313.6 377.0,310.3C379.2,307.0 381.1,308.9 383.6,307.0C386.1,305.1 389.8,301.8 392.0,298.7C394.2,295.6 395.1,288.9 397.0,288.6C398.9,288.3 401.4,296.4 403.6,297.0C405.8,297.6 408.6,293.9 410.3,292.0C412.0,290.1 412.7,284.4 413.7,285.3C414.7,286.2 414.7,294.3 416.1,297.7C417.5,301.1 420.2,306.5 422.2,305.8C424.2,305.1 426.6,292.6 428.3,293.6C430.0,294.6 430.7,309.9 432.4,311.9C434.1,313.9 436.1,307.5 438.5,305.8C440.9,304.1 444.2,300.7 446.6,301.7C449.0,302.7 450.8,311.2 452.8,311.9C454.9,312.6 456.5,306.8 458.9,305.8C461.3,304.8 464.6,304.8 467.0,305.8C469.4,306.8 470.7,311.2 473.1,311.9C475.5,312.6 478.9,308.2 481.3,309.9C483.7,311.6 485.0,320.4 487.4,322.1C489.8,323.8 492.4,320.7 495.5,320.0C498.6,319.3 503.0,317.0 505.7,318.0C508.4,319.0 509.4,324.5 511.8,326.2C514.2,327.9 517.5,328.5 519.9,328.2C522.3,327.9 524.0,321.7 526.0,324.1C528.0,326.5 529.8,337.3 532.2,342.4C534.6,347.5 537.2,347.6 540.3,354.7C543.3,361.8 547.1,380.1 550.5,385.2C553.9,390.3 557.0,385.9 560.7,385.2C564.4,384.5 569.7,383.5 572.9,381.1C576.1,378.7 577.9,374.5 580.0,370.6C582.1,366.8 583.6,362.2 585.4,358.0C587.2,353.8 589.0,346.7 590.8,345.5C592.6,344.3 594.3,355.1 596.1,350.9C597.9,346.7 599.7,330.3 601.5,320.4C603.3,310.5 604.8,300.4 606.9,291.7C609.0,283.0 612.0,275.3 614.1,268.4C616.2,261.5 618.0,254.6 619.5,250.4C621.0,246.2 621.8,242.4 623.0,243.3C624.2,244.2 625.1,251.6 626.6,255.8C628.1,260.0 630.2,268.4 632.0,268.4C633.8,268.4 635.6,256.4 637.4,255.8C639.2,255.2 641.3,262.1 642.8,264.8C644.3,267.5 644.9,271.7 646.4,272.0C647.9,272.3 649.9,267.2 651.7,266.6C653.5,266.0 655.0,268.4 657.1,268.4C659.2,268.4 661.9,264.2 664.3,266.6C666.7,269.0 669.1,277.9 671.5,282.7C673.9,287.5 676.2,292.9 678.6,295.3C681.0,297.7 683.7,295.6 685.8,297.1C687.9,298.6 689.4,301.2 691.2,304.2C693.0,307.2 694.5,313.2 696.6,315.0C698.7,316.8 701.3,315.3 703.7,315.0C706.1,314.7 708.5,312.0 710.9,313.2C713.3,314.4 715.7,319.8 718.1,322.2C720.5,324.6 722.9,326.3 725.3,327.5C727.7,328.7 730.3,328.1 732.4,329.3C734.5,330.5 736.0,332.3 737.8,334.7C739.6,337.1 741.5,343.1 743.2,343.7C744.9,344.3 747.1,339.2 747.9,338.3L747.9,539.2C746.8,540.7 743.7,548.4 741.4,548.1C739.1,547.8 736.3,539.8 734.2,537.4C732.1,535.0 731.0,534.7 728.9,533.8C726.8,532.9 724.1,533.5 721.7,532.0C719.3,530.5 716.9,526.9 714.5,524.8C712.1,522.7 709.7,520.6 707.3,519.4C704.9,518.2 702.6,518.8 700.2,517.6C697.8,516.4 695.4,515.9 693.0,512.3C690.6,508.7 688.2,498.8 685.8,496.1C683.4,493.4 681.0,497.6 678.6,496.1C676.2,494.6 673.9,492.0 671.5,487.2C669.1,482.4 666.7,470.4 664.3,467.4C661.9,464.4 659.2,469.2 657.1,469.2C655.0,469.2 653.5,466.2 651.7,467.4C649.9,468.6 647.9,476.7 646.4,476.4C644.9,476.1 644.3,468.6 642.8,465.6C641.3,462.6 639.2,457.9 637.4,458.5C635.6,459.1 633.5,469.2 632.0,469.2C630.5,469.2 629.9,462.7 628.4,458.5C626.9,454.3 624.5,445.6 623.0,444.1C621.5,442.6 621.0,445.3 619.5,449.5C618.0,453.7 616.2,461.4 614.1,469.2C612.0,477.0 609.0,487.1 606.9,496.1C604.8,505.1 603.3,514.0 601.5,523.0C599.7,532.0 597.9,547.0 596.1,550.0C594.3,553.0 592.6,540.7 590.8,541.0C589.0,541.3 587.2,548.7 585.4,551.7C583.6,554.7 582.1,556.1 580.0,558.9C577.9,561.7 575.1,565.2 572.9,568.4C570.6,571.6 568.9,575.5 566.5,577.9C564.1,580.3 561.3,582.1 558.7,582.6C556.1,583.1 553.1,583.4 550.9,581.0C548.7,578.6 546.9,572.6 545.6,568.5C544.3,564.4 543.9,560.0 543.0,556.5C542.1,553.0 541.3,549.5 540.4,547.6C539.5,545.7 539.2,546.1 537.8,545.0C536.4,543.9 533.5,543.4 532.1,540.9C530.7,538.4 530.5,533.9 529.5,530.0C528.5,526.1 528.3,517.9 526.0,517.5C523.7,517.1 518.9,527.7 515.9,527.7C512.9,527.7 510.4,517.8 507.7,517.5C505.0,517.2 502.3,524.7 499.6,525.7C496.9,526.7 494.1,522.9 491.4,523.6C488.7,524.3 486.0,530.7 483.3,529.7C480.6,528.7 477.9,520.2 475.2,517.5C472.5,514.8 469.7,514.5 467.0,513.5C464.3,512.5 461.3,510.7 458.9,511.4C456.5,512.1 454.9,518.5 452.8,517.5C450.8,516.5 448.7,508.7 446.6,505.3C444.6,501.9 442.2,496.2 440.5,497.2C438.8,498.1 438.3,512.8 436.5,511.0C434.7,509.2 431.8,489.0 429.5,486.5C427.2,484.0 425.1,498.4 423.0,496.0C420.9,493.6 418.7,476.6 417.0,472.0C415.3,467.4 414.8,467.0 413.0,468.5C411.2,470.0 408.6,482.1 406.0,481.0C403.4,479.9 400.2,463.5 397.5,462.0C394.8,460.5 392.9,469.5 390.0,472.0C387.1,474.5 383.2,473.8 380.0,477.0C376.8,480.2 372.8,488.7 371.0,491.5C369.2,494.3 370.2,493.4 369.0,494.0C367.8,494.6 365.4,496.5 363.5,495.0C361.6,493.5 359.4,490.0 357.5,485.0C355.6,480.0 353.9,469.7 352.0,465.0C350.1,460.3 348.0,457.3 346.0,457.0C344.0,456.7 342.6,461.6 340.0,463.0C337.4,464.4 333.2,463.6 330.2,465.7C327.2,467.8 324.6,475.7 321.8,475.7C319.0,475.7 316.0,466.2 313.5,465.7C311.0,465.1 309.1,472.3 306.8,472.4C304.6,472.5 302.5,468.2 300.0,466.5C297.5,464.8 294.4,461.5 291.6,462.4C288.8,463.3 285.5,470.9 283.0,472.0C280.5,473.1 279.3,466.7 276.8,468.8C274.3,470.9 270.3,482.6 268.0,484.7C265.7,486.8 264.7,481.9 263.0,481.5C261.3,481.1 259.3,483.4 257.7,482.5C256.1,481.6 254.9,476.4 253.5,476.2C252.1,476.0 250.8,481.0 249.0,481.5C247.2,482.0 244.7,478.1 242.8,479.4C240.9,480.6 238.9,488.6 237.5,489.0C236.1,489.4 236.0,484.5 234.3,481.5C232.6,478.5 229.6,472.6 227.5,471.0C225.4,469.4 223.7,473.4 221.6,472.0C219.5,470.6 217.1,464.6 215.0,462.4C212.9,460.1 211.0,459.6 209.0,458.5C207.0,457.4 205.2,457.1 203.0,456.0C200.8,454.9 198.2,452.0 196.0,451.8C193.8,451.6 191.8,455.4 190.0,455.0C188.2,454.6 187.0,449.5 185.5,449.7C184.0,449.9 182.8,453.4 181.0,456.0C179.2,458.6 176.7,461.5 174.6,465.5C172.5,469.5 170.7,479.0 168.7,480.2C166.7,481.4 164.5,472.9 162.8,472.9C161.1,472.9 161.1,480.4 158.4,480.2C155.7,479.9 149.6,473.3 146.7,471.4C143.8,469.4 142.5,471.2 140.8,468.5C139.1,465.8 138.1,460.7 136.4,455.3C134.7,449.9 132.7,436.7 130.5,436.2C128.3,435.7 125.4,451.1 123.2,452.3C121.0,453.5 119.5,443.0 117.3,443.5C115.1,444.0 112.2,457.2 110.0,455.3C107.8,453.4 106.8,430.8 104.1,431.8C101.4,432.8 96.3,457.3 93.9,461.2C91.5,465.1 90.2,456.3 89.5,455.3Z" fill="#ff0000" fill-opacity="0.165"/>
<path d="M89.5,283.6C90.7,285.6 94.4,296.4 96.8,295.4C99.2,294.4 101.9,279.5 104.1,277.8C106.3,276.1 107.8,287.5 110.0,285.0C112.2,282.5 114.8,265.2 117.3,263.0C119.8,260.8 121.8,272.6 124.7,271.9C127.7,271.2 132.3,260.2 135.0,258.7C137.7,257.2 138.1,264.7 140.8,263.0C143.5,261.3 147.7,249.4 151.1,248.4C154.5,247.4 158.2,256.5 161.4,257.2C164.6,257.9 167.3,251.3 170.2,252.8C173.1,254.3 176.1,260.6 179.0,266.0C181.9,271.4 184.9,281.8 187.8,285.0C190.7,288.2 193.2,279.9 196.6,285.0C200.0,290.1 205.4,311.2 208.3,315.9C211.2,320.6 212.2,312.3 214.2,313.0C216.1,313.7 217.8,319.6 220.0,320.3C222.2,321.0 225.0,317.4 227.4,317.4C229.8,317.4 232.5,322.8 234.7,320.3C236.9,317.9 238.4,308.8 240.6,302.7C242.8,296.6 245.7,285.8 247.9,283.6C250.1,281.4 252.3,290.6 253.8,289.5C255.3,288.4 255.1,281.9 256.7,277.0C258.3,272.1 261.2,264.2 263.4,260.3C265.6,256.4 267.8,255.6 270.0,253.6C272.2,251.6 274.5,251.0 276.7,248.5C278.9,246.0 281.2,243.2 283.4,238.5C285.6,233.8 287.8,225.7 290.0,220.1C292.2,214.5 294.6,207.9 296.8,205.1C299.0,202.3 301.2,203.9 303.4,203.4C305.6,202.9 307.9,201.8 310.1,201.8C312.3,201.8 314.9,201.2 316.8,203.4C318.8,205.6 319.9,212.3 321.8,215.1C323.8,217.9 326.6,219.1 328.5,220.2C330.4,221.3 331.8,222.1 333.5,221.8C335.2,221.5 336.3,217.1 338.5,218.5C340.7,219.9 344.4,231.3 346.9,230.2C349.4,229.1 351.6,215.4 353.5,211.8C355.4,208.2 356.6,210.7 358.5,208.5C360.4,206.3 363.2,199.2 365.2,198.4C367.1,197.6 368.2,205.1 370.2,203.4C372.2,201.7 375.0,190.3 377.0,188.4C379.0,186.5 380.3,191.5 382.0,191.8C383.7,192.1 385.3,190.0 387.0,190.0C388.7,190.0 390.1,192.6 392.0,191.8C393.9,191.0 396.7,187.5 398.6,185.0C400.5,182.5 401.4,178.4 403.6,176.7C405.8,175.0 409.8,175.8 412.0,175.0C414.2,174.2 415.3,176.4 417.0,171.7C418.7,167.0 420.3,152.5 422.2,147.0C424.1,141.5 426.3,142.6 428.3,138.9C430.3,135.2 432.7,125.1 434.4,124.6C436.1,124.1 437.2,133.0 438.5,136.0C439.8,139.0 440.8,141.2 442.0,142.5C443.2,143.8 444.7,142.4 446.0,143.5C447.3,144.6 448.4,146.7 450.0,149.0C451.6,151.3 453.6,155.0 455.5,157.5C457.4,160.0 459.8,161.5 461.5,164.0C463.2,166.5 464.2,169.5 466.0,172.5C467.8,175.5 470.3,181.2 472.0,182.0C473.7,182.8 474.7,178.3 476.0,177.0C477.3,175.7 478.7,173.5 480.0,174.0C481.3,174.5 482.7,176.0 484.0,180.0C485.3,184.0 486.7,194.0 488.0,198.0C489.3,202.0 490.7,201.5 491.7,204.0C492.7,206.5 493.1,208.6 494.0,213.0C494.9,217.4 495.4,226.0 496.8,230.6C498.2,235.2 500.6,235.7 502.7,240.8C504.8,245.9 507.6,258.6 509.3,261.3C511.0,264.0 511.6,257.1 513.0,257.0C514.4,256.9 515.6,263.0 517.4,260.6C519.2,258.2 521.9,246.4 524.0,242.7C526.1,239.0 528.1,240.0 530.1,238.6C532.1,237.2 534.2,236.5 536.2,234.5C538.2,232.5 540.3,226.1 542.3,226.4C544.3,226.8 546.4,235.2 548.4,236.6C550.4,237.9 552.5,235.2 554.5,234.5C556.5,233.8 558.2,234.2 560.7,232.5C563.2,230.8 566.9,222.4 569.6,224.4C572.3,226.4 575.0,238.4 576.9,244.7C578.8,251.0 579.3,255.1 581.0,262.0C582.7,268.9 584.7,278.7 587.2,286.3C589.7,293.9 593.7,305.7 596.1,307.8C598.5,309.9 599.7,299.5 601.5,298.9C603.3,298.3 604.8,305.1 606.9,304.2C609.0,303.3 611.7,297.4 614.1,293.5C616.5,289.6 619.1,285.4 621.2,280.9C623.3,276.4 624.8,269.4 626.6,266.6C628.4,263.8 630.2,269.1 632.0,264.0C633.8,258.9 635.6,242.2 637.4,236.1C639.2,229.9 641.0,230.4 642.8,227.1C644.6,223.8 646.3,216.7 648.1,216.4C649.9,216.1 651.7,224.4 653.5,225.3C655.3,226.2 657.1,221.7 658.9,221.7C660.7,221.7 662.2,226.5 664.3,225.3C666.4,224.1 669.1,215.5 671.5,214.6C673.9,213.7 676.5,219.3 678.6,219.9C680.7,220.5 681.6,217.5 684.0,218.1C686.4,218.7 690.6,219.3 693.0,223.5C695.4,227.7 696.6,240.6 698.4,243.3C700.2,246.0 701.6,238.8 703.7,239.7C705.8,240.6 708.8,247.1 710.9,248.6C713.0,250.1 714.2,249.4 716.3,248.6C718.4,247.8 721.4,243.7 723.5,244.0C725.6,244.3 727.1,250.2 728.9,250.4C730.7,250.6 732.1,245.9 734.2,245.0C736.3,244.1 739.1,243.8 741.4,245.0C743.7,246.2 746.8,251.0 747.9,252.2" fill="none" stroke="#000" stroke-opacity="0.42" stroke-width="1.2"/>
<path d="M89.5,461.0C90.2,463.5 91.5,476.3 93.9,475.8C96.3,475.3 101.4,459.9 104.1,458.2C106.8,456.5 107.8,467.2 110.0,465.5C112.2,463.8 114.8,449.2 117.3,448.0C119.8,446.8 121.8,458.0 124.7,458.2C127.7,458.4 132.3,449.4 135.0,449.4C137.7,449.4 138.1,458.2 140.8,458.2C143.5,458.2 147.7,449.4 151.1,449.4C154.5,449.4 158.2,456.2 161.4,458.2C164.6,460.2 167.3,458.8 170.2,461.2C173.1,463.6 175.6,466.5 179.0,472.9C182.4,479.2 187.5,494.6 190.7,499.3C193.9,504.0 195.6,497.4 198.0,500.8C200.4,504.2 202.7,514.4 205.4,519.8C208.1,525.2 212.0,531.5 214.2,533.0C216.4,534.5 217.1,528.4 218.6,528.6C220.1,528.9 221.3,534.2 223.0,534.5C224.7,534.8 226.9,530.4 228.8,530.1C230.8,529.9 232.7,534.2 234.7,533.0C236.7,531.8 238.4,528.9 240.6,522.8C242.8,516.7 245.7,501.3 247.9,496.4C250.1,491.5 252.3,495.5 253.8,493.4C255.3,491.3 254.5,488.9 256.7,484.0C258.8,479.1 263.9,469.6 266.7,464.0C269.5,458.4 271.2,454.6 273.4,450.7C275.6,446.8 277.8,446.7 280.0,440.6C282.2,434.5 284.5,422.5 286.7,413.9C288.9,405.3 291.2,393.8 293.4,388.8C295.6,383.8 297.9,385.6 300.1,383.9C302.3,382.2 304.3,379.9 306.8,378.8C309.3,377.7 312.6,375.5 315.1,377.2C317.6,378.9 319.6,386.6 321.8,388.8C324.0,391.0 326.3,390.5 328.5,390.5C330.7,390.5 333.2,388.5 335.2,388.8C337.1,389.1 338.2,390.5 340.2,392.2C342.1,393.9 344.7,400.8 346.9,398.9C349.1,396.9 351.6,384.1 353.5,380.5C355.4,376.9 356.6,378.9 358.5,377.2C360.4,375.5 363.2,371.1 365.2,370.5C367.1,369.9 368.2,375.0 370.2,373.9C372.2,372.8 374.8,364.9 377.0,363.8C379.2,362.7 381.4,366.9 383.6,367.2C385.8,367.5 387.8,366.1 390.3,365.5C392.8,364.9 396.1,364.1 398.6,363.8C401.1,363.5 403.1,364.4 405.3,363.8C407.5,363.2 410.1,361.6 412.0,360.5C413.9,359.4 415.3,361.5 417.0,357.1C418.7,352.7 420.3,339.5 422.2,334.3C424.1,329.1 426.3,329.6 428.3,326.2C430.3,322.8 432.4,314.2 434.4,313.9C436.4,313.5 438.1,320.4 440.5,324.1C442.9,327.8 446.0,332.2 448.7,336.3C451.4,340.4 454.1,344.2 456.8,348.6C459.5,353.0 462.3,357.0 465.0,362.8C467.7,368.6 470.4,379.1 473.1,383.2C475.8,387.3 479.3,384.5 481.3,387.2C483.3,389.9 483.6,394.0 485.3,399.4C487.0,404.8 489.4,413.0 491.4,419.8C493.4,426.6 495.1,432.4 497.5,440.2C499.9,448.0 503.3,461.5 505.7,466.6C508.1,471.7 509.8,469.7 511.8,470.7C513.8,471.7 515.9,475.4 517.9,472.7C519.9,470.0 521.6,457.8 524.0,454.4C526.4,451.0 529.5,453.8 532.2,452.4C534.9,451.0 537.6,445.6 540.3,446.3C543.0,447.0 546.0,454.1 548.4,456.5C550.8,458.9 552.5,461.2 554.5,460.5C556.5,459.8 558.2,454.4 560.7,452.4C563.2,450.4 567.2,445.6 569.6,448.3C572.0,451.0 573.2,463.1 574.9,468.7C576.6,474.3 578.0,476.3 580.0,481.8C582.0,487.3 584.5,492.8 587.2,501.5C589.9,510.2 594.0,529.9 596.1,533.8C598.2,537.7 598.2,525.4 599.7,524.8C601.2,524.2 603.0,531.7 605.1,530.2C607.2,528.7 609.9,521.0 612.3,515.9C614.7,510.8 617.4,504.5 619.5,499.7C621.6,494.9 623.0,489.3 624.8,487.2C626.6,485.1 628.4,491.4 630.2,487.2C632.0,483.0 633.8,468.0 635.6,462.0C637.4,456.0 638.9,455.5 641.0,451.3C643.1,447.1 646.0,436.9 648.1,436.9C650.2,436.9 651.7,449.5 653.5,451.3C655.3,453.1 657.1,447.7 658.9,447.7C660.7,447.7 662.2,451.9 664.3,451.3C666.4,450.7 669.1,444.7 671.5,444.1C673.9,443.5 676.5,447.1 678.6,447.7C680.7,448.3 681.6,447.1 684.0,447.7C686.4,448.3 690.6,448.0 693.0,451.3C695.4,454.6 696.6,465.0 698.4,467.4C700.2,469.8 701.6,464.1 703.7,465.6C705.8,467.1 708.5,474.9 710.9,476.4C713.3,477.9 716.0,475.5 718.1,474.6C720.2,473.7 721.7,470.4 723.5,471.0C725.3,471.6 727.1,477.6 728.9,478.2C730.7,478.8 732.1,475.2 734.2,474.6C736.3,474.0 739.1,473.7 741.4,474.6C743.7,475.5 746.8,479.1 747.9,480.0" fill="none" stroke="#000" stroke-opacity="0.42" stroke-width="1.2"/>
<path d="M89.5,260.0C90.2,261.0 91.5,269.2 93.9,266.0C96.3,262.8 101.4,241.5 104.1,241.0C106.8,240.5 107.8,260.9 110.0,263.0C112.2,265.1 115.1,253.4 117.3,253.4C119.5,253.4 121.0,263.6 123.2,263.0C125.4,262.4 128.3,249.5 130.5,250.0C132.7,250.5 134.7,260.2 136.4,266.0C138.1,271.8 139.1,281.3 140.8,285.0C142.5,288.7 143.8,286.0 146.7,288.0C149.6,290.0 155.7,296.1 158.4,296.8C161.1,297.5 161.1,291.4 162.8,292.4C164.5,293.4 166.7,302.9 168.7,302.7C170.7,302.5 172.4,293.4 174.6,291.0C176.8,288.6 179.9,289.6 181.9,288.0C183.9,286.4 184.4,281.8 186.3,281.6C188.2,281.4 190.4,284.5 193.6,286.6C196.8,288.7 201.5,290.6 205.4,294.0C209.3,297.4 214.2,303.3 217.1,307.0C220.0,310.7 220.6,313.3 223.0,316.0C225.4,318.7 229.4,319.1 231.8,323.2C234.2,327.2 235.7,338.6 237.6,340.3C239.5,342.0 241.4,335.4 243.5,333.5C245.6,331.6 247.8,328.4 250.0,328.7C252.2,329.0 254.5,335.1 256.7,335.4C258.9,335.7 261.4,329.8 263.4,330.4C265.3,331.0 266.5,339.6 268.4,338.8C270.3,338.0 272.8,326.7 275.0,325.3C277.2,323.9 279.2,331.2 281.7,330.4C284.2,329.6 286.9,321.2 290.0,320.4C293.1,319.6 297.3,323.4 300.1,325.4C302.9,327.3 304.6,333.5 306.8,332.1C309.0,330.7 311.3,318.1 313.5,317.0C315.7,315.9 317.6,325.9 320.1,325.4C322.6,324.8 325.7,317.3 328.5,313.7C331.3,310.1 334.0,306.5 336.8,303.7C339.6,300.9 343.0,297.3 345.2,297.0C347.4,296.7 348.2,298.7 350.2,302.0C352.1,305.3 354.7,312.6 356.9,317.0C359.1,321.4 361.4,327.0 363.6,328.7C365.8,330.4 368.0,330.1 370.2,327.0C372.4,323.9 374.8,313.6 377.0,310.3C379.2,307.0 381.1,308.9 383.6,307.0C386.1,305.1 389.8,301.8 392.0,298.7C394.2,295.6 395.1,288.9 397.0,288.6C398.9,288.3 401.4,296.4 403.6,297.0C405.8,297.6 408.6,293.9 410.3,292.0C412.0,290.1 412.7,284.4 413.7,285.3C414.7,286.2 414.7,294.3 416.1,297.7C417.5,301.1 420.2,306.5 422.2,305.8C424.2,305.1 426.6,292.6 428.3,293.6C430.0,294.6 430.7,309.9 432.4,311.9C434.1,313.9 436.1,307.5 438.5,305.8C440.9,304.1 444.2,300.7 446.6,301.7C449.0,302.7 450.8,311.2 452.8,311.9C454.9,312.6 456.5,306.8 458.9,305.8C461.3,304.8 464.6,304.8 467.0,305.8C469.4,306.8 470.7,311.2 473.1,311.9C475.5,312.6 478.9,308.2 481.3,309.9C483.7,311.6 485.0,320.4 487.4,322.1C489.8,323.8 492.4,320.7 495.5,320.0C498.6,319.3 503.0,317.0 505.7,318.0C508.4,319.0 509.4,324.5 511.8,326.2C514.2,327.9 517.5,328.5 519.9,328.2C522.3,327.9 524.0,321.7 526.0,324.1C528.0,326.5 529.8,337.3 532.2,342.4C534.6,347.5 537.2,347.6 540.3,354.7C543.3,361.8 547.1,380.1 550.5,385.2C553.9,390.3 557.0,385.9 560.7,385.2C564.4,384.5 569.7,383.5 572.9,381.1C576.1,378.7 577.9,374.5 580.0,370.6C582.1,366.8 583.6,362.2 585.4,358.0C587.2,353.8 589.0,346.7 590.8,345.5C592.6,344.3 594.3,355.1 596.1,350.9C597.9,346.7 599.7,330.3 601.5,320.4C603.3,310.5 604.8,300.4 606.9,291.7C609.0,283.0 612.0,275.3 614.1,268.4C616.2,261.5 618.0,254.6 619.5,250.4C621.0,246.2 621.8,242.4 623.0,243.3C624.2,244.2 625.1,251.6 626.6,255.8C628.1,260.0 630.2,268.4 632.0,268.4C633.8,268.4 635.6,256.4 637.4,255.8C639.2,255.2 641.3,262.1 642.8,264.8C644.3,267.5 644.9,271.7 646.4,272.0C647.9,272.3 649.9,267.2 651.7,266.6C653.5,266.0 655.0,268.4 657.1,268.4C659.2,268.4 661.9,264.2 664.3,266.6C666.7,269.0 669.1,277.9 671.5,282.7C673.9,287.5 676.2,292.9 678.6,295.3C681.0,297.7 683.7,295.6 685.8,297.1C687.9,298.6 689.4,301.2 691.2,304.2C693.0,307.2 694.5,313.2 696.6,315.0C698.7,316.8 701.3,315.3 703.7,315.0C706.1,314.7 708.5,312.0 710.9,313.2C713.3,314.4 715.7,319.8 718.1,322.2C720.5,324.6 722.9,326.3 725.3,327.5C727.7,328.7 730.3,328.1 732.4,329.3C734.5,330.5 736.0,332.3 737.8,334.7C739.6,337.1 741.5,343.1 743.2,343.7C744.9,344.3 747.1,339.2 747.9,338.3" fill="none" stroke="#ff0000" stroke-opacity="0.42" stroke-width="1.2"/>
<path d="M89.5,455.3C90.2,456.3 91.5,465.1 93.9,461.2C96.3,457.3 101.4,432.8 104.1,431.8C106.8,430.8 107.8,453.4 110.0,455.3C112.2,457.2 115.1,444.0 117.3,443.5C119.5,443.0 121.0,453.5 123.2,452.3C125.4,451.1 128.3,435.7 130.5,436.2C132.7,436.7 134.7,449.9 136.4,455.3C138.1,460.7 139.1,465.8 140.8,468.5C142.5,471.2 143.8,469.4 146.7,471.4C149.6,473.3 155.7,479.9 158.4,480.2C161.1,480.4 161.1,472.9 162.8,472.9C164.5,472.9 166.7,481.4 168.7,480.2C170.7,479.0 172.5,469.5 174.6,465.5C176.7,461.5 179.2,458.6 181.0,456.0C182.8,453.4 184.0,449.9 185.5,449.7C187.0,449.5 188.2,454.6 190.0,455.0C191.8,455.4 193.8,451.6 196.0,451.8C198.2,452.0 200.8,454.9 203.0,456.0C205.2,457.1 207.0,457.4 209.0,458.5C211.0,459.6 212.9,460.1 215.0,462.4C217.1,464.6 219.5,470.6 221.6,472.0C223.7,473.4 225.4,469.4 227.5,471.0C229.6,472.6 232.6,478.5 234.3,481.5C236.0,484.5 236.1,489.4 237.5,489.0C238.9,488.6 240.9,480.6 242.8,479.4C244.7,478.1 247.2,482.0 249.0,481.5C250.8,481.0 252.1,476.0 253.5,476.2C254.9,476.4 256.1,481.6 257.7,482.5C259.3,483.4 261.3,481.1 263.0,481.5C264.7,481.9 265.7,486.8 268.0,484.7C270.3,482.6 274.3,470.9 276.8,468.8C279.3,466.7 280.5,473.1 283.0,472.0C285.5,470.9 288.8,463.3 291.6,462.4C294.4,461.5 297.5,464.8 300.0,466.5C302.5,468.2 304.6,472.5 306.8,472.4C309.1,472.3 311.0,465.1 313.5,465.7C316.0,466.2 319.0,475.7 321.8,475.7C324.6,475.7 327.2,467.8 330.2,465.7C333.2,463.6 337.4,464.4 340.0,463.0C342.6,461.6 344.0,456.7 346.0,457.0C348.0,457.3 350.1,460.3 352.0,465.0C353.9,469.7 355.6,480.0 357.5,485.0C359.4,490.0 361.6,493.5 363.5,495.0C365.4,496.5 367.8,494.6 369.0,494.0C370.2,493.4 369.2,494.3 371.0,491.5C372.8,488.7 376.8,480.2 380.0,477.0C383.2,473.8 387.1,474.5 390.0,472.0C392.9,469.5 394.8,460.5 397.5,462.0C400.2,463.5 403.4,479.9 406.0,481.0C408.6,482.1 411.2,470.0 413.0,468.5C414.8,467.0 415.3,467.4 417.0,472.0C418.7,476.6 420.9,493.6 423.0,496.0C425.1,498.4 427.2,484.0 429.5,486.5C431.8,489.0 434.7,509.2 436.5,511.0C438.3,512.8 438.8,498.1 440.5,497.2C442.2,496.2 444.6,501.9 446.6,505.3C448.7,508.7 450.8,516.5 452.8,517.5C454.9,518.5 456.5,512.1 458.9,511.4C461.3,510.7 464.3,512.5 467.0,513.5C469.7,514.5 472.5,514.8 475.2,517.5C477.9,520.2 480.6,528.7 483.3,529.7C486.0,530.7 488.7,524.3 491.4,523.6C494.1,522.9 496.9,526.7 499.6,525.7C502.3,524.7 505.0,517.2 507.7,517.5C510.4,517.8 512.9,527.7 515.9,527.7C518.9,527.7 523.7,517.1 526.0,517.5C528.3,517.9 528.5,526.1 529.5,530.0C530.5,533.9 530.7,538.4 532.1,540.9C533.5,543.4 536.4,543.9 537.8,545.0C539.2,546.1 539.5,545.7 540.4,547.6C541.3,549.5 542.1,553.0 543.0,556.5C543.9,560.0 544.3,564.4 545.6,568.5C546.9,572.6 548.7,578.6 550.9,581.0C553.1,583.4 556.1,583.1 558.7,582.6C561.3,582.1 564.1,580.3 566.5,577.9C568.9,575.5 570.6,571.6 572.9,568.4C575.1,565.2 577.9,561.7 580.0,558.9C582.1,556.1 583.6,554.7 585.4,551.7C587.2,548.7 589.0,541.3 590.8,541.0C592.6,540.7 594.3,553.0 596.1,550.0C597.9,547.0 599.7,532.0 601.5,523.0C603.3,514.0 604.8,505.1 606.9,496.1C609.0,487.1 612.0,477.0 614.1,469.2C616.2,461.4 618.0,453.7 619.5,449.5C621.0,445.3 621.5,442.6 623.0,444.1C624.5,445.6 626.9,454.3 628.4,458.5C629.9,462.7 630.5,469.2 632.0,469.2C633.5,469.2 635.6,459.1 637.4,458.5C639.2,457.9 641.3,462.6 642.8,465.6C644.3,468.6 644.9,476.1 646.4,476.4C647.9,476.7 649.9,468.6 651.7,467.4C653.5,466.2 655.0,469.2 657.1,469.2C659.2,469.2 661.9,464.4 664.3,467.4C666.7,470.4 669.1,482.4 671.5,487.2C673.9,492.0 676.2,494.6 678.6,496.1C681.0,497.6 683.4,493.4 685.8,496.1C688.2,498.8 690.6,508.7 693.0,512.3C695.4,515.9 697.8,516.4 700.2,517.6C702.6,518.8 704.9,518.2 707.3,519.4C709.7,520.6 712.1,522.7 714.5,524.8C716.9,526.9 719.3,530.5 721.7,532.0C724.1,533.5 726.8,532.9 728.9,533.8C731.0,534.7 732.1,535.0 734.2,537.4C736.3,539.8 739.1,547.8 741.4,548.1C743.7,548.4 746.8,540.7 747.9,539.2" fill="none" stroke="#ff0000" stroke-opacity="0.42" stroke-width="1.2"/>
<path d="M89.5,376.0C90.7,377.5 94.4,386.3 96.8,384.9C99.2,383.4 101.9,368.8 104.1,367.3C106.3,365.8 107.8,378.0 110.0,376.0C112.2,374.0 114.8,357.1 117.3,355.5C119.8,353.9 121.8,367.2 124.7,366.7C127.7,366.2 132.3,353.5 135.0,352.6C137.7,351.7 138.1,362.1 140.8,361.4C143.5,360.7 147.7,348.7 151.1,348.2C154.5,347.7 158.2,356.9 161.4,358.4C164.6,359.9 167.3,355.3 170.2,357.0C173.1,358.7 176.1,362.8 179.0,368.7C181.9,374.6 184.9,388.3 187.8,392.2C190.7,396.1 193.2,387.1 196.6,392.2C200.0,397.3 205.4,418.1 208.3,423.0C211.2,427.9 212.5,421.0 214.2,421.5C215.9,422.0 216.6,425.8 218.6,426.0C220.6,426.2 223.5,422.8 225.9,423.0C228.3,423.2 230.8,429.3 233.2,427.4C235.6,425.4 238.1,417.6 240.6,411.3C243.1,405.0 245.8,391.9 247.9,389.3C250.0,386.7 251.6,397.0 253.3,395.5C255.0,394.0 256.6,385.8 258.3,380.5C260.0,375.2 261.7,368.2 263.4,363.8C265.1,359.4 266.5,356.1 268.4,353.8C270.3,351.5 273.1,350.9 275.0,349.8C276.9,348.7 278.1,350.2 280.0,347.0C281.9,343.8 284.5,337.1 286.7,330.4C288.9,323.7 291.4,312.9 293.4,307.0C295.3,301.1 296.7,297.2 298.4,295.3C300.1,293.4 301.7,296.1 303.4,295.3C305.1,294.5 306.3,291.2 308.5,290.3C310.7,289.4 314.6,287.7 316.8,289.6C319.0,291.6 319.9,299.2 321.8,302.0C323.8,304.8 326.6,305.2 328.5,306.3C330.4,307.4 331.8,309.1 333.5,308.7C335.2,308.3 336.8,303.4 338.5,303.7C340.2,304.0 341.8,308.4 343.5,310.3C345.2,312.2 346.8,317.6 348.5,315.4C350.2,313.2 351.8,300.6 353.5,297.0C355.2,293.4 356.8,295.6 358.5,293.6C360.2,291.7 361.9,285.3 363.6,285.3C365.3,285.3 366.9,294.2 368.6,293.6C370.3,293.1 372.2,284.8 373.6,282.0C375.0,279.2 375.6,277.0 377.0,277.0C378.4,277.0 380.4,282.0 382.0,282.0C383.6,282.0 385.0,277.6 386.9,277.0C388.8,276.4 391.4,279.2 393.6,278.6C395.8,278.0 398.4,275.3 400.3,273.6C402.2,271.9 403.6,269.7 405.3,268.6C407.0,267.5 408.7,267.6 410.3,267.0C411.9,266.4 413.6,266.7 415.0,265.0C416.4,263.3 417.3,260.7 418.5,257.0C419.7,253.3 420.6,246.4 422.2,242.7C423.8,238.9 426.3,238.4 428.3,234.5C430.3,230.6 432.4,220.2 434.4,219.5C436.4,218.8 438.5,227.0 440.5,230.5C442.5,234.0 444.9,239.1 446.6,240.7C448.3,242.2 449.0,237.8 450.7,239.8C452.4,241.8 454.8,249.0 456.8,252.9C458.8,256.8 460.2,257.9 462.9,263.0C465.6,268.1 470.4,281.0 473.1,283.4C475.8,285.8 477.2,277.0 479.2,277.3C481.2,277.6 483.3,280.3 485.3,285.4C487.3,290.5 489.7,301.0 491.4,307.8C493.1,314.6 493.5,320.1 495.5,326.2C497.5,332.3 501.2,337.7 503.6,344.5C506.0,351.3 508.1,363.8 509.8,366.9C511.5,369.9 512.4,362.6 513.8,362.8C515.1,363.0 516.2,370.5 517.9,368.1C519.6,365.7 522.0,352.2 524.0,348.6C526.0,345.0 528.1,347.2 530.1,346.5C532.1,345.8 534.2,346.5 536.2,344.5C538.2,342.5 540.3,334.3 542.3,334.3C544.3,334.3 546.4,341.8 548.4,344.5C550.4,347.2 552.5,350.6 554.5,350.6C556.5,350.6 558.7,345.2 560.7,344.5C562.8,343.8 565.1,347.9 566.8,346.5C568.5,345.1 569.1,334.9 570.8,336.3C572.5,337.7 575.2,348.6 576.9,354.7C578.6,360.8 579.6,367.7 581.0,373.0C582.4,378.3 583.8,381.4 585.4,386.7C587.0,392.0 589.0,399.0 590.8,404.7C592.6,410.4 594.6,419.6 596.1,420.8C597.6,422.0 598.2,412.2 599.7,411.8C601.2,411.4 603.0,419.5 605.1,418.3C607.2,417.1 609.9,409.7 612.3,404.7C614.7,399.7 617.4,393.3 619.5,388.5C621.6,383.7 623.0,378.0 624.8,376.0C626.6,374.0 628.4,380.6 630.2,376.7C632.0,372.8 633.8,358.5 635.6,352.7C637.4,346.9 638.9,346.4 641.0,341.9C643.1,337.4 646.0,326.1 648.1,325.8C650.2,325.5 651.7,338.6 653.5,340.1C655.3,341.6 657.1,335.0 658.9,334.7C660.7,334.4 662.2,339.2 664.3,338.3C666.4,337.4 669.4,330.5 671.5,329.3C673.6,328.1 675.0,329.9 676.8,331.1C678.6,332.3 680.7,336.2 682.2,336.5C683.7,336.8 684.0,332.9 685.8,332.9C687.6,332.9 690.9,332.6 693.0,336.5C695.1,340.4 696.6,353.2 698.4,356.2C700.2,359.2 701.9,353.2 703.7,354.4C705.5,355.6 707.0,362.2 709.1,363.4C711.2,364.6 713.9,362.8 716.3,361.6C718.7,360.4 721.4,355.6 723.5,356.2C725.6,356.8 727.1,364.6 728.9,365.2C730.7,365.8 732.1,360.7 734.2,359.8C736.3,358.9 739.1,358.3 741.4,359.8C743.7,361.3 746.8,367.3 747.9,368.8" fill="none" stroke="#1a1a1a" stroke-width="1.4"/>
<path d="M89.5,358.4C90.2,359.4 91.5,368.0 93.9,364.3C96.3,360.6 101.4,337.1 104.1,336.4C106.8,335.7 107.8,357.9 110.0,360.0C112.2,362.1 115.1,349.3 117.3,349.0C119.5,348.7 121.0,359.4 123.2,358.4C125.4,357.4 128.5,342.9 130.5,343.2C132.5,343.5 133.3,354.3 135.0,360.0C136.7,365.7 138.9,373.8 140.8,377.5C142.8,381.2 143.8,379.8 146.7,382.0C149.6,384.2 155.7,390.5 158.4,390.7C161.1,390.9 161.1,383.3 162.8,383.4C164.5,383.5 167.0,392.0 168.7,391.3C170.4,390.6 171.3,381.3 173.0,379.0C174.7,376.7 176.8,379.7 179.0,377.5C181.2,375.3 183.9,366.8 186.3,365.8C188.7,364.8 190.4,370.0 193.6,371.7C196.8,373.4 201.5,373.6 205.4,376.0C209.3,378.4 213.9,382.9 217.1,386.3C220.3,389.7 221.9,394.4 224.4,396.6C226.9,398.8 229.6,396.6 231.8,399.5C234.0,402.4 235.7,413.2 237.6,414.2C239.5,415.2 241.4,407.1 243.5,405.4C245.6,403.7 247.8,403.7 250.0,404.0C252.2,404.3 254.8,406.9 256.7,407.2C258.6,407.5 260.0,404.8 261.7,405.6C263.4,406.4 264.8,412.5 266.7,412.2C268.6,411.9 271.2,404.7 273.4,403.9C275.6,403.1 277.8,408.0 280.0,407.2C282.2,406.4 284.5,401.7 286.7,398.9C288.9,396.1 291.2,391.3 293.4,390.5C295.6,389.7 298.2,391.7 300.1,393.9C302.1,396.1 303.2,404.5 305.1,403.9C307.1,403.3 309.9,392.4 311.8,390.5C313.8,388.6 315.1,390.8 316.8,392.2C318.5,393.6 320.1,399.2 321.8,398.9C323.5,398.6 324.9,390.8 326.8,390.5C328.8,390.2 331.6,397.5 333.5,397.2C335.4,396.9 336.3,392.1 338.5,388.8C340.7,385.5 344.7,378.0 346.9,377.2C349.1,376.4 350.2,380.8 351.9,383.9C353.6,386.9 354.9,391.1 356.9,395.5C358.8,399.9 361.7,408.0 363.6,410.5C365.6,413.0 366.9,411.1 368.6,410.5C370.3,409.9 371.7,410.5 373.6,407.2C375.6,403.9 378.1,393.8 380.3,390.5C382.5,387.2 384.8,389.1 387.0,387.2C389.2,385.3 391.7,380.6 393.6,378.9C395.5,377.2 396.7,375.3 398.6,377.2C400.6,379.1 403.4,389.9 405.3,390.5C407.2,391.1 408.9,382.7 410.3,380.5C411.7,378.3 412.3,376.6 413.7,377.2C415.1,377.8 417.3,379.8 418.7,383.9C420.1,387.9 420.6,400.3 422.2,401.5C423.8,402.7 426.6,389.6 428.3,391.3C430.0,393.0 431.0,409.3 432.4,411.7C433.8,414.1 435.1,406.0 436.5,405.6C437.9,405.2 438.8,410.0 440.5,409.6C442.2,409.2 444.6,402.5 446.6,403.5C448.7,404.5 450.8,414.7 452.8,415.7C454.9,416.7 456.5,410.3 458.9,409.6C461.3,408.9 464.6,410.7 467.0,411.7C469.4,412.7 471.1,415.7 473.1,415.7C475.1,415.7 477.2,409.8 479.2,411.7C481.2,413.6 483.3,425.4 485.3,427.1C487.3,428.8 489.0,422.7 491.4,421.8C493.8,420.9 497.2,422.8 499.6,421.8C502.0,420.8 503.7,415.0 505.7,415.7C507.7,416.4 509.4,423.5 511.8,425.9C514.2,428.3 517.5,430.7 519.9,430.0C522.3,429.3 524.0,419.4 526.0,421.8C528.0,424.2 529.8,439.8 532.2,444.2C534.6,448.6 537.9,445.6 540.3,448.3C542.7,451.0 544.7,454.7 546.4,460.5C548.1,466.3 548.8,478.8 550.5,482.9C552.2,487.0 554.2,485.3 556.6,485.0C559.0,484.7 561.3,481.9 564.7,480.9C568.1,479.9 574.4,479.6 576.9,478.8C579.4,478.1 578.6,478.6 580.0,476.4C581.4,474.2 583.6,470.7 585.4,465.6C587.2,460.5 589.0,448.3 590.8,445.9C592.6,443.5 594.3,455.2 596.1,451.3C597.9,447.4 599.7,431.6 601.5,422.6C603.3,413.6 604.8,405.9 606.9,397.5C609.0,389.1 612.0,380.2 614.1,372.4C616.2,364.6 618.0,355.7 619.5,350.9C621.0,346.1 621.8,342.5 623.0,343.7C624.2,344.9 625.1,353.8 626.6,358.0C628.1,362.2 630.2,369.1 632.0,368.8C633.8,368.5 635.6,356.8 637.4,356.2C639.2,355.6 641.3,362.2 642.8,365.2C644.3,368.2 644.9,373.9 646.4,374.2C647.9,374.5 649.9,367.9 651.7,367.0C653.5,366.1 655.3,368.8 657.1,368.8C658.9,368.8 660.4,364.6 662.5,367.0C664.6,369.4 667.3,378.0 669.7,383.1C672.1,388.2 674.4,395.4 676.8,397.5C679.2,399.6 681.9,394.2 684.0,395.7C686.1,397.2 687.6,403.2 689.4,406.5C691.2,409.8 692.7,413.6 694.8,415.4C696.9,417.2 699.5,417.2 701.9,417.2C704.3,417.2 706.7,414.5 709.1,415.4C711.5,416.3 713.9,420.2 716.3,422.6C718.7,425.0 721.1,428.3 723.5,429.8C725.9,431.3 728.5,430.7 730.6,431.6C732.7,432.5 734.2,432.8 736.0,435.2C737.8,437.6 739.4,445.1 741.4,445.9C743.4,446.7 746.8,440.8 747.9,439.8" fill="none" stroke="#f41818" stroke-width="1.4"/>
</g>
<rect x="89.6" y="64.75" width="658" height="519.25" fill="none" stroke="#222" stroke-width="1.3"/>
<path d="M89.4,584v-6 M89.4,64.75v6 M199.0,584v-6 M199.0,64.75v6 M308.6,584v-6 M308.6,64.75v6 M418.2,584v-6 M418.2,64.75v6 M527.8,584v-6 M527.8,64.75v6 M637.4,584v-6 M637.4,64.75v6 M747.0,584v-6 M747.0,64.75v6 M89.6,584.0h6 M747.6,584.0h-6 M89.6,479.9h6 M747.6,479.9h-6 M89.6,375.9h6 M747.6,375.9h-6 M89.6,271.9h6 M747.6,271.9h-6 M89.6,167.8h6 M747.6,167.8h-6 M89.6,63.8h6 M747.6,63.8h-6" stroke="#333" stroke-width="1" fill="none"/>
<text x="71.07" y="609.16" textLength="45.88" lengthAdjust="spacingAndGlyphs" style="font-family:'Liberation Serif',serif;font-size:24.60px;" fill="#000">-200</text>
<text x="194.68" y="609.16" textLength="13.33" lengthAdjust="spacingAndGlyphs" style="font-family:'Liberation Serif',serif;font-size:24.60px;" fill="#000">0</text>
<text x="290.88" y="609.16" textLength="38.08" lengthAdjust="spacingAndGlyphs" style="font-family:'Liberation Serif',serif;font-size:24.60px;" fill="#000">200</text>
<text x="401.12" y="609.16" textLength="36.81" lengthAdjust="spacingAndGlyphs" style="font-family:'Liberation Serif',serif;font-size:24.60px;" fill="#000">400</text>
<text x="510.36" y="609.16" textLength="36.47" lengthAdjust="spacingAndGlyphs" style="font-family:'Liberation Serif',serif;font-size:24.60px;" fill="#000">600</text>
<text x="626.06" y="609.16" textLength="36.87" lengthAdjust="spacingAndGlyphs" style="font-family:'Liberation Serif',serif;font-size:24.60px;" fill="#000">800</text>
<text x="44.83" y="585.84" textLength="37.83" lengthAdjust="spacingAndGlyphs" style="font-family:'Liberation Serif',serif;font-size:26.23px;" fill="#000">500</text>
<text x="46.74" y="383.45" textLength="37.11" lengthAdjust="spacingAndGlyphs" style="font-family:'Liberation Serif',serif;font-size:25.79px;" fill="#000">600</text>
<text x="46.71" y="175.55" textLength="38.36" lengthAdjust="spacingAndGlyphs" style="font-family:'Liberation Serif',serif;font-size:25.79px;" fill="#000">700</text>
<text x="400.22" y="629.35" textLength="35.75" lengthAdjust="spacingAndGlyphs" style="font-family:'Liberation Sans',sans-serif;font-size:26.10px;" fill="#000">ms</text>
<text x="363.41" y="55.10" textLength="113.90" lengthAdjust="spacingAndGlyphs" style="font-family:'Liberation Sans',sans-serif;font-size:27.46px;" fill="#000">Speaker</text>
<text transform="translate(44.30,445.56) rotate(-90)" x="0" y="0" textLength="187.61" lengthAdjust="spacingAndGlyphs" style="font-family:'Liberation Sans',sans-serif;font-size:27.60px;">wavelet energy</text>
<text transform="translate(42.60,251.48) rotate(-90)" x="0" y="0" textLength="64.96" lengthAdjust="spacingAndGlyphs" style="font-family:'Liberation Sans',sans-serif;font-size:24.60px;">(8 Hz)</text>
<text x="4.95" y="31.15" textLength="20.03" lengthAdjust="spacingAndGlyphs" style="font-family:'Liberation Sans',sans-serif;font-size:36.14px;font-weight:bold;" fill="#000">a</text>
<circle cx="577" cy="84.5" r="10" fill="#ff0000"/>
<circle cx="576.5" cy="120" r="10.5" fill="#000"/>
<text x="591.88" y="93.01" textLength="146.90" lengthAdjust="spacingAndGlyphs" style="font-family:'Liberation Sans',sans-serif;font-size:24.03px;" fill="#000">Unexpected</text>
<text x="591.74" y="127.10" textLength="115.04" lengthAdjust="spacingAndGlyphs" style="font-family:'Liberation Sans',sans-serif;font-size:23.60px;" fill="#000">Expected</text>
<circle cx="169" cy="138.1" r="55" fill="none" stroke="#000" stroke-width="1.0"/>
<path d="M160.3,83.3 Q167.4,73.4 169.4,74.4 Q171.4,73.4 177.8,83.3" fill="none" stroke="#000" stroke-width="0.9"/>
<path d="M114.8,124.6 L111.1,123.9 L108.9,126.1 L108.3,132.1 L109.1,138.1 L108.3,144.1 L108.7,150.6 L110.8,153.4 L114.0,152.6" fill="none" stroke="#000" stroke-width="0.9" stroke-linejoin="round"/>
<path d="M223.2,124.6 L226.9,123.9 L229.1,126.1 L229.7,132.1 L228.9,138.1 L229.7,144.1 L229.3,150.6 L227.2,153.4 L224.0,152.6" fill="none" stroke="#000" stroke-width="0.9" stroke-linejoin="round"/>
<circle cx="169.4" cy="96.0" r="1.70" fill="#000"/>
<circle cx="144.7" cy="109.0" r="1.70" fill="#000"/>
<circle cx="169.4" cy="109.9" r="1.70" fill="#000"/>
<circle cx="193.4" cy="109.0" r="1.70" fill="#000"/>
<circle cx="121.9" cy="103.7" r="1.70" fill="#000"/>
<circle cx="216.5" cy="103.7" r="1.70" fill="#000"/>
<circle cx="151.8" cy="84.2" r="1.70" fill="#000"/>
<circle cx="186.3" cy="84.2" r="1.70" fill="#000"/>
<circle cx="139.8" cy="138.5" r="1.70" fill="#000"/>
<circle cx="169.4" cy="138.5" r="1.70" fill="#000"/>
<circle cx="198.3" cy="138.5" r="1.70" fill="#000"/>
<circle cx="110.6" cy="138.5" r="1.70" fill="#000"/>
<circle cx="227.5" cy="138.5" r="1.70" fill="#000"/>
<circle cx="169.4" cy="152.1" r="1.70" fill="#000"/>
<circle cx="151.8" cy="191.8" r="1.70" fill="#000"/>
<circle cx="186.3" cy="191.8" r="1.70" fill="#000"/>
<circle cx="145.0" cy="167.7" r="4.30" fill="#000" stroke="#fff" stroke-width="1.20"/>
<circle cx="169.6" cy="166.4" r="4.30" fill="#000" stroke="#fff" stroke-width="1.20"/>
<circle cx="191.5" cy="167.7" r="4.30" fill="#000" stroke="#fff" stroke-width="1.20"/>
<circle cx="122.3" cy="172.3" r="4.30" fill="#000" stroke="#fff" stroke-width="1.20"/>
<circle cx="216.8" cy="173.6" r="4.30" fill="#000" stroke="#fff" stroke-width="1.20"/>
<circle cx="169.6" cy="180.7" r="4.30" fill="#000" stroke="#fff" stroke-width="1.20"/>
<circle cx="331" cy="529.3" r="51" fill="url(#topo)"/>
<circle cx="331" cy="529.3" r="51" fill="url(#topor)"/>
<circle cx="331" cy="529.3" r="51" fill="url(#topob)"/>
<circle cx="331" cy="530.4" r="44.5" fill="none" stroke="#000" stroke-width="1.3"/>
<path d="M324.0,486.1 Q329.7,478.1 331.3,478.9 Q332.9,478.1 338.1,486.1" fill="none" stroke="#000" stroke-width="1.3"/>
<path d="M287.1,519.5 L284.1,518.9 L282.4,520.7 L281.9,525.5 L282.5,530.4 L281.9,535.3 L282.2,540.5 L283.9,542.8 L286.5,542.1" fill="none" stroke="#000" stroke-width="1.3" stroke-linejoin="round"/>
<path d="M374.9,519.5 L377.9,518.9 L379.6,520.7 L380.1,525.5 L379.5,530.4 L380.1,535.3 L379.8,540.5 L378.1,542.8 L375.5,542.1" fill="none" stroke="#000" stroke-width="1.3" stroke-linejoin="round"/>
<circle cx="331.3" cy="496.3" r="1.38" fill="#000"/>
<circle cx="311.3" cy="506.9" r="1.38" fill="#000"/>
<circle cx="331.3" cy="507.6" r="1.38" fill="#000"/>
<circle cx="350.7" cy="506.9" r="1.38" fill="#000"/>
<circle cx="292.9" cy="502.6" r="1.38" fill="#000"/>
<circle cx="369.4" cy="502.6" r="1.38" fill="#000"/>
<circle cx="317.1" cy="486.8" r="1.38" fill="#000"/>
<circle cx="345.0" cy="486.8" r="1.38" fill="#000"/>
<circle cx="307.4" cy="530.7" r="1.38" fill="#000"/>
<circle cx="331.3" cy="530.7" r="1.38" fill="#000"/>
<circle cx="354.7" cy="530.7" r="1.38" fill="#000"/>
<circle cx="283.7" cy="530.7" r="1.38" fill="#000"/>
<circle cx="378.3" cy="530.7" r="1.38" fill="#000"/>
<circle cx="331.3" cy="541.7" r="1.38" fill="#000"/>
<circle cx="317.1" cy="573.8" r="1.38" fill="#000"/>
<circle cx="345.0" cy="573.8" r="1.38" fill="#000"/>
<circle cx="311.6" cy="554.3" r="1.38" fill="#000"/>
<circle cx="331.5" cy="553.3" r="1.38" fill="#000"/>
<circle cx="349.2" cy="554.3" r="1.38" fill="#000"/>
<circle cx="293.2" cy="558.1" r="1.38" fill="#000"/>
<circle cx="369.7" cy="559.1" r="1.38" fill="#000"/>
<circle cx="331.5" cy="564.9" r="1.38" fill="#000"/>
<rect x="389.5" y="493.5" width="10" height="74" fill="url(#cbg)" stroke="#000" stroke-width="0.6"/>
<text x="382.66" y="491.66" textLength="22.79" lengthAdjust="spacingAndGlyphs" style="font-family:'Liberation Serif',serif;font-size:14.52px;" fill="#000">106</text>
<text x="378.92" y="580.15" textLength="28.54" lengthAdjust="spacingAndGlyphs" style="font-family:'Liberation Serif',serif;font-size:15.56px;" fill="#000">-106</text>
<rect x="850.2" y="62.5" width="142.7" height="518.7" fill="none" stroke="#444" stroke-width="1.4"/>
<path d="M850.2,581.7h6 M992.9,581.7h-6 M850.2,495.0h6 M992.9,495.0h-6 M850.2,408.3h6 M992.9,408.3h-6 M850.2,321.6h6 M992.9,321.6h-6 M850.2,234.9h6 M992.9,234.9h-6 M850.2,148.2h6 M992.9,148.2h-6 M850.2,61.5h6 M992.9,61.5h-6 M916,581.2v-6 M916,62.5v6" stroke="#333" stroke-width="1" fill="none"/>
<path d="M916,257V553" stroke="#222" stroke-width="1.6" stroke-dasharray="1.6,5.6" fill="none"/>
<rect x="879" y="298" width="73.5" height="147" fill="#b3b3b3" stroke="#333" stroke-width="1.1"/>
<path d="M916,298V445" stroke="#222" stroke-width="1.6" stroke-dasharray="1.6,5.6" fill="none"/>
<path d="M897.5,250.8H934 M897.5,553H934 M879,379H952.5" stroke="#333" stroke-width="1.3" fill="none"/>
<path d="M850.2,321.6H992.9" stroke="#222" stroke-width="1.7" fill="none"/>
<circle cx="916" cy="377" r="5.3" fill="none" stroke="#111" stroke-width="1.2"/>
<text x="790.76" y="159.25" textLength="55.85" lengthAdjust="spacingAndGlyphs" style="font-family:'Liberation Serif',serif;font-size:35.57px;" fill="#000">200</text>
<text x="825.34" y="334.97" textLength="19.11" lengthAdjust="spacingAndGlyphs" style="font-family:'Liberation Serif',serif;font-size:33.79px;" fill="#000">0</text>
<text x="776.59" y="507.65" textLength="69.66" lengthAdjust="spacingAndGlyphs" style="font-family:'Liberation Serif',serif;font-size:36.01px;" fill="#000">-200</text>
<text transform="translate(789.40,456.60) rotate(-90)" x="0" y="0" textLength="279.88" lengthAdjust="spacingAndGlyphs" style="font-family:'Liberation Sans',sans-serif;font-size:25.50px;">unexpected - expected</text>
<text x="854.61" y="50.65" textLength="21.52" lengthAdjust="spacingAndGlyphs" style="font-family:'Liberation Sans',sans-serif;font-size:35.43px;" fill="#000">p</text>
<rect x="886.5" y="36.8" width="18.7" height="2" fill="#000"/><rect x="886.5" y="44.4" width="18.7" height="2" fill="#000"/>
<text x="913.21" y="51.31" textLength="76.49" lengthAdjust="spacingAndGlyphs" style="font-family:'Liberation Serif',serif;font-size:34.31px;" fill="#000">0.018</text>
<text x="771.73" y="30.88" textLength="24.73" lengthAdjust="spacingAndGlyphs" style="font-family:'Liberation Sans',sans-serif;font-size:32.68px;font-weight:bold;" fill="#000">b</text>
<rect x="95" y="674" width="629" height="83.0" fill="url(#r0)"/>
<rect x="95" y="756.5" width="629" height="83.0" fill="url(#r1)"/>
<rect x="95" y="839" width="629" height="83.0" fill="url(#r2)"/>
<rect x="95" y="921.5" width="629" height="83.0" fill="url(#r3)"/>
<rect x="95" y="1004" width="629" height="83.5" fill="url(#r4)"/>
<rect x="95" y="1087" width="629" height="83.0" fill="url(#r5)"/>
<rect x="95.3" y="674" width="628.2" height="495.3" fill="none" stroke="#222" stroke-opacity="0.85" stroke-width="1.2"/>
<path d="M94.7,1169.5v-6 M94.7,674v6 M199.2,1169.5v-6 M199.2,674v6 M303.7,1169.5v-6 M303.7,674v6 M408.2,1169.5v-6 M408.2,674v6 M512.7,1169.5v-6 M512.7,674v6 M617.2,1169.5v-6 M617.2,674v6 M721.7,1169.5v-6 M721.7,674v6 M95,715.2h6 M724,715.2h-6 M95,797.8h6 M724,797.8h-6 M95,880.2h6 M724,880.2h-6 M95,962.8h6 M724,962.8h-6 M95,1045.5h6 M724,1045.5h-6 M95,1128.2h6 M724,1128.2h-6" stroke="#222" stroke-width="1" fill="none"/>
<text x="62.70" y="1197.70" textLength="54.22" lengthAdjust="spacingAndGlyphs" style="font-family:'Liberation Serif',serif;font-size:30.38px;" fill="#000">-200</text>
<text x="187.84" y="1197.70" textLength="15.22" lengthAdjust="spacingAndGlyphs" style="font-family:'Liberation Serif',serif;font-size:30.38px;" fill="#000">0</text>
<text x="282.30" y="1197.70" textLength="44.43" lengthAdjust="spacingAndGlyphs" style="font-family:'Liberation Serif',serif;font-size:30.38px;" fill="#000">200</text>
<text x="391.43" y="1197.70" textLength="44.09" lengthAdjust="spacingAndGlyphs" style="font-family:'Liberation Serif',serif;font-size:30.38px;" fill="#000">400</text>
<text x="491.73" y="1197.70" textLength="44.40" lengthAdjust="spacingAndGlyphs" style="font-family:'Liberation Serif',serif;font-size:30.38px;" fill="#000">600</text>
<text x="593.58" y="1197.70" textLength="44.25" lengthAdjust="spacingAndGlyphs" style="font-family:'Liberation Serif',serif;font-size:30.38px;" fill="#000">800</text>
<text x="59.12" y="725.10" textLength="29.71" lengthAdjust="spacingAndGlyphs" style="font-family:'Liberation Serif',serif;font-size:30.53px;" fill="#000">40</text>
<text x="58.37" y="810.10" textLength="30.18" lengthAdjust="spacingAndGlyphs" style="font-family:'Liberation Serif',serif;font-size:30.38px;" fill="#000">20</text>
<text x="57.71" y="888.80" textLength="29.52" lengthAdjust="spacingAndGlyphs" style="font-family:'Liberation Serif',serif;font-size:29.75px;" fill="#000">12</text>
<text x="70.62" y="971.62" textLength="14.16" lengthAdjust="spacingAndGlyphs" style="font-family:'Liberation Serif',serif;font-size:28.75px;" fill="#000">8</text>
<text x="69.14" y="1053.00" textLength="15.80" lengthAdjust="spacingAndGlyphs" style="font-family:'Liberation Serif',serif;font-size:30.51px;" fill="#000">6</text>
<text x="69.66" y="1140.30" textLength="16.34" lengthAdjust="spacingAndGlyphs" style="font-family:'Liberation Serif',serif;font-size:31.11px;" fill="#000">2</text>
<text x="393.42" y="1219.99" textLength="43.77" lengthAdjust="spacingAndGlyphs" style="font-family:'Liberation Sans',sans-serif;font-size:31.58px;" fill="#000">ms</text>
<text x="15.48" y="930.20" textLength="37.55" lengthAdjust="spacingAndGlyphs" style="font-family:'Liberation Sans',sans-serif;font-size:30.81px;" fill="#000">Hz</text>
<text x="3.60" y="646.01" textLength="19.95" lengthAdjust="spacingAndGlyphs" style="font-family:'Liberation Sans',sans-serif;font-size:29.75px;font-weight:bold;" fill="#000">c</text>
<circle cx="647" cy="746.5" r="65.5" fill="#fff"/>
<circle cx="647" cy="748.5" r="52.5" fill="none" stroke="#000" stroke-width="1.0"/>
<path d="M638.7,696.2 Q645.5,686.7 647.4,687.7 Q649.3,686.7 655.4,696.2" fill="none" stroke="#000" stroke-width="0.9"/>
<path d="M595.2,735.6 L591.7,734.9 L589.6,737.0 L589.0,742.8 L589.8,748.5 L589.0,754.2 L589.4,760.4 L591.4,763.1 L594.5,762.3" fill="none" stroke="#000" stroke-width="0.9" stroke-linejoin="round"/>
<path d="M698.8,735.6 L702.3,734.9 L704.4,737.0 L705.0,742.8 L704.2,748.5 L705.0,754.2 L704.6,760.4 L702.6,763.1 L699.5,762.3" fill="none" stroke="#000" stroke-width="0.9" stroke-linejoin="round"/>
<circle cx="647.4" cy="708.3" r="1.62" fill="#000"/>
<circle cx="623.8" cy="720.7" r="1.62" fill="#000"/>
<circle cx="647.4" cy="721.6" r="1.62" fill="#000"/>
<circle cx="670.3" cy="720.7" r="1.62" fill="#000"/>
<circle cx="602.0" cy="715.7" r="1.62" fill="#000"/>
<circle cx="692.3" cy="715.7" r="1.62" fill="#000"/>
<circle cx="630.6" cy="697.0" r="1.62" fill="#000"/>
<circle cx="663.5" cy="697.0" r="1.62" fill="#000"/>
<circle cx="619.1" cy="748.9" r="1.62" fill="#000"/>
<circle cx="647.4" cy="748.9" r="1.62" fill="#000"/>
<circle cx="675.0" cy="748.9" r="1.62" fill="#000"/>
<circle cx="591.3" cy="748.9" r="1.62" fill="#000"/>
<circle cx="702.8" cy="748.9" r="1.62" fill="#000"/>
<circle cx="647.4" cy="761.9" r="1.62" fill="#000"/>
<circle cx="630.6" cy="799.8" r="1.62" fill="#000"/>
<circle cx="663.5" cy="799.8" r="1.62" fill="#000"/>
<circle cx="624.1" cy="776.8" r="4.10" fill="#000" stroke="#fff" stroke-width="1.15"/>
<circle cx="647.6" cy="775.5" r="4.10" fill="#000" stroke="#fff" stroke-width="1.15"/>
<circle cx="668.5" cy="776.8" r="4.10" fill="#000" stroke="#fff" stroke-width="1.15"/>
<circle cx="602.4" cy="781.1" r="4.10" fill="#000" stroke="#fff" stroke-width="1.15"/>
<circle cx="692.6" cy="782.4" r="4.10" fill="#000" stroke="#fff" stroke-width="1.15"/>
<circle cx="647.6" cy="789.2" r="4.10" fill="#000" stroke="#fff" stroke-width="1.15"/>
<rect x="746.5" y="695.5" width="33.5" height="455.5" fill="url(#cbc)" stroke="#111" stroke-width="1.2"/>
<path d="M746.5,725.0h5 M780,725.0h-5 M746.5,791.0h5 M780,791.0h-5 M746.5,857.0h5 M780,857.0h-5 M746.5,923.0h5 M780,923.0h-5 M746.5,989.0h5 M780,989.0h-5 M746.5,1055.0h5 M780,1055.0h-5 M746.5,1121.0h5 M780,1121.0h-5" stroke="#000" stroke-width="1.4" fill="none"/>
<text x="784.52" y="733.00" textLength="29.71" lengthAdjust="spacingAndGlyphs" style="font-family:'Liberation Serif',serif;font-size:30.23px;" fill="#000">60</text>
<text x="785.81" y="932.41" textLength="15.57" lengthAdjust="spacingAndGlyphs" style="font-family:'Liberation Serif',serif;font-size:29.79px;" fill="#000">0</text>
<text x="787.08" y="1133.70" textLength="40.27" lengthAdjust="spacingAndGlyphs" style="font-family:'Liberation Serif',serif;font-size:30.82px;" fill="#000">-60</text>
</svg></body></html>
